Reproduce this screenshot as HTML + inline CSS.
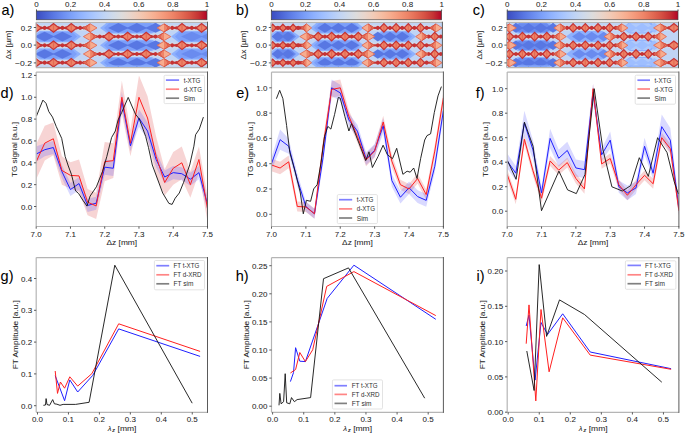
<!DOCTYPE html>
<html><head><meta charset="utf-8"><style>html,body{margin:0;padding:0;background:#fff;width:685px;height:433px;overflow:hidden}svg{display:block}</style></head><body>
<svg width="685" height="433" viewBox="0 0 685 433" style="font-family:'Liberation Sans',sans-serif">
<rect width="685" height="433" fill="#fff"/>
<defs>
<linearGradient id="cwg" x1="0" x2="1" y1="0" y2="0"><stop offset="0" stop-color="#3b4cc0"/><stop offset="0.05" stop-color="#4961d2"/><stop offset="0.1" stop-color="#5977e3"/><stop offset="0.15" stop-color="#6a8bef"/><stop offset="0.2" stop-color="#7b9ff9"/><stop offset="0.25" stop-color="#8db0fe"/><stop offset="0.3" stop-color="#9ebeff"/><stop offset="0.35" stop-color="#afcafc"/><stop offset="0.4" stop-color="#c0d4f5"/><stop offset="0.45" stop-color="#cfdaea"/><stop offset="0.5" stop-color="#dddcdc"/><stop offset="0.55" stop-color="#e9d5cb"/><stop offset="0.6" stop-color="#f2cbb7"/><stop offset="0.65" stop-color="#f6bda2"/><stop offset="0.7" stop-color="#f7ac8e"/><stop offset="0.75" stop-color="#f4987a"/><stop offset="0.8" stop-color="#ee8468"/><stop offset="0.85" stop-color="#e36c55"/><stop offset="0.9" stop-color="#d65244"/><stop offset="0.95" stop-color="#c53334"/><stop offset="1" stop-color="#b40426"/></linearGradient>
<filter id="soft" x="-5%" y="-5%" width="110%" height="110%"><feGaussianBlur stdDeviation="0.45"/></filter>
<clipPath id="hm0"><rect x="36" y="22.3" width="171.5" height="45.3"/></clipPath>
<clipPath id="hm1"><rect x="271" y="22.3" width="171.4" height="45.3"/></clipPath>
<clipPath id="hm2"><rect x="506.6" y="22.3" width="171.9" height="45.3"/></clipPath>
<clipPath id="mc0"><rect x="36.2" y="72.1" width="171.3" height="154.4"/></clipPath><clipPath id="bc0"><rect x="36.2" y="257.6" width="171.3" height="154.7"/></clipPath><clipPath id="mc1"><rect x="271.5" y="72.1" width="171.9" height="154.4"/></clipPath><clipPath id="bc1"><rect x="271.5" y="257.6" width="171.9" height="154.7"/></clipPath><clipPath id="mc2"><rect x="507.2" y="72.1" width="171.7" height="154.4"/></clipPath><clipPath id="bc2"><rect x="507.2" y="257.6" width="171.7" height="154.7"/></clipPath></defs>
<text x="1.4" y="15.3" font-size="14.5" text-anchor="start" fill="#000" stroke="#000" stroke-width="0.05">a)</text>
<text x="236" y="15.3" font-size="14.5" text-anchor="start" fill="#000" stroke="#000" stroke-width="0.05">b)</text>
<text x="472.7" y="15.3" font-size="14.5" text-anchor="start" fill="#000" stroke="#000" stroke-width="0.05">c)</text>
<text x="0.6" y="97.6" font-size="14.5" text-anchor="start" fill="#000" stroke="#000" stroke-width="0.05">d)</text>
<text x="236.2" y="97.8" font-size="14.5" text-anchor="start" fill="#000" stroke="#000" stroke-width="0.05">e)</text>
<text x="475.8" y="97.7" font-size="14.5" text-anchor="start" fill="#000" stroke="#000" stroke-width="0.05">f)</text>
<text x="0.6" y="281.2" font-size="14.5" text-anchor="start" fill="#000" stroke="#000" stroke-width="0.05">g)</text>
<text x="235.8" y="281.2" font-size="14.5" text-anchor="start" fill="#000" stroke="#000" stroke-width="0.05">h)</text>
<text x="476.6" y="281.2" font-size="14.5" text-anchor="start" fill="#000" stroke="#000" stroke-width="0.05">i)</text>
<rect x="36.3" y="11" width="170.7" height="8.8" fill="url(#cwg)" stroke="#444" stroke-width="0.7"/>
<line x1="36.5" y1="11" x2="36.5" y2="9.4" stroke="#333" stroke-width="0.8"/>
<text x="36.5" y="7" font-size="7.9" text-anchor="middle" fill="#262626" stroke="#262626" stroke-width="0.05" textLength="4.45" lengthAdjust="spacingAndGlyphs">0</text>
<line x1="70.6" y1="11" x2="70.6" y2="9.4" stroke="#333" stroke-width="0.8"/>
<text x="70.6" y="7" font-size="7.9" text-anchor="middle" fill="#262626" stroke="#262626" stroke-width="0.05" textLength="11.13" lengthAdjust="spacingAndGlyphs">0.2</text>
<line x1="104.7" y1="11" x2="104.7" y2="9.4" stroke="#333" stroke-width="0.8"/>
<text x="104.7" y="7" font-size="7.9" text-anchor="middle" fill="#262626" stroke="#262626" stroke-width="0.05" textLength="11.13" lengthAdjust="spacingAndGlyphs">0.4</text>
<line x1="138.8" y1="11" x2="138.8" y2="9.4" stroke="#333" stroke-width="0.8"/>
<text x="138.8" y="7" font-size="7.9" text-anchor="middle" fill="#262626" stroke="#262626" stroke-width="0.05" textLength="11.13" lengthAdjust="spacingAndGlyphs">0.6</text>
<line x1="172.9" y1="11" x2="172.9" y2="9.4" stroke="#333" stroke-width="0.8"/>
<text x="172.9" y="7" font-size="7.9" text-anchor="middle" fill="#262626" stroke="#262626" stroke-width="0.05" textLength="11.13" lengthAdjust="spacingAndGlyphs">0.8</text>
<line x1="207" y1="11" x2="207" y2="9.4" stroke="#333" stroke-width="0.8"/>
<text x="207" y="7" font-size="7.9" text-anchor="middle" fill="#262626" stroke="#262626" stroke-width="0.05" textLength="4.45" lengthAdjust="spacingAndGlyphs">1</text>
<rect x="271.3" y="11" width="170.3" height="8.8" fill="url(#cwg)" stroke="#444" stroke-width="0.7"/>
<line x1="271.5" y1="11" x2="271.5" y2="9.4" stroke="#333" stroke-width="0.8"/>
<text x="271.5" y="7" font-size="7.9" text-anchor="middle" fill="#262626" stroke="#262626" stroke-width="0.05" textLength="4.45" lengthAdjust="spacingAndGlyphs">0</text>
<line x1="305.52" y1="11" x2="305.52" y2="9.4" stroke="#333" stroke-width="0.8"/>
<text x="305.52" y="7" font-size="7.9" text-anchor="middle" fill="#262626" stroke="#262626" stroke-width="0.05" textLength="11.13" lengthAdjust="spacingAndGlyphs">0.2</text>
<line x1="339.54" y1="11" x2="339.54" y2="9.4" stroke="#333" stroke-width="0.8"/>
<text x="339.54" y="7" font-size="7.9" text-anchor="middle" fill="#262626" stroke="#262626" stroke-width="0.05" textLength="11.13" lengthAdjust="spacingAndGlyphs">0.4</text>
<line x1="373.56" y1="11" x2="373.56" y2="9.4" stroke="#333" stroke-width="0.8"/>
<text x="373.56" y="7" font-size="7.9" text-anchor="middle" fill="#262626" stroke="#262626" stroke-width="0.05" textLength="11.13" lengthAdjust="spacingAndGlyphs">0.6</text>
<line x1="407.58" y1="11" x2="407.58" y2="9.4" stroke="#333" stroke-width="0.8"/>
<text x="407.58" y="7" font-size="7.9" text-anchor="middle" fill="#262626" stroke="#262626" stroke-width="0.05" textLength="11.13" lengthAdjust="spacingAndGlyphs">0.8</text>
<line x1="441.6" y1="11" x2="441.6" y2="9.4" stroke="#333" stroke-width="0.8"/>
<text x="441.6" y="7" font-size="7.9" text-anchor="middle" fill="#262626" stroke="#262626" stroke-width="0.05" textLength="4.45" lengthAdjust="spacingAndGlyphs">1</text>
<rect x="507.1" y="11" width="170.9" height="8.8" fill="url(#cwg)" stroke="#444" stroke-width="0.7"/>
<line x1="507.3" y1="11" x2="507.3" y2="9.4" stroke="#333" stroke-width="0.8"/>
<text x="507.3" y="7" font-size="7.9" text-anchor="middle" fill="#262626" stroke="#262626" stroke-width="0.05" textLength="4.45" lengthAdjust="spacingAndGlyphs">0</text>
<line x1="541.44" y1="11" x2="541.44" y2="9.4" stroke="#333" stroke-width="0.8"/>
<text x="541.44" y="7" font-size="7.9" text-anchor="middle" fill="#262626" stroke="#262626" stroke-width="0.05" textLength="11.13" lengthAdjust="spacingAndGlyphs">0.2</text>
<line x1="575.58" y1="11" x2="575.58" y2="9.4" stroke="#333" stroke-width="0.8"/>
<text x="575.58" y="7" font-size="7.9" text-anchor="middle" fill="#262626" stroke="#262626" stroke-width="0.05" textLength="11.13" lengthAdjust="spacingAndGlyphs">0.4</text>
<line x1="609.72" y1="11" x2="609.72" y2="9.4" stroke="#333" stroke-width="0.8"/>
<text x="609.72" y="7" font-size="7.9" text-anchor="middle" fill="#262626" stroke="#262626" stroke-width="0.05" textLength="11.13" lengthAdjust="spacingAndGlyphs">0.6</text>
<line x1="643.86" y1="11" x2="643.86" y2="9.4" stroke="#333" stroke-width="0.8"/>
<text x="643.86" y="7" font-size="7.9" text-anchor="middle" fill="#262626" stroke="#262626" stroke-width="0.05" textLength="11.13" lengthAdjust="spacingAndGlyphs">0.8</text>
<line x1="678" y1="11" x2="678" y2="9.4" stroke="#333" stroke-width="0.8"/>
<text x="678" y="7" font-size="7.9" text-anchor="middle" fill="#262626" stroke="#262626" stroke-width="0.05" textLength="4.45" lengthAdjust="spacingAndGlyphs">1</text>
<g clip-path="url(#hm0)"><g filter="url(#soft)">
<rect x="34" y="20.3" width="175.5" height="49.3" fill="#c0d4f5"/>
<polygon points="32,36.6 40,30.8 73,30.8 81,36.6 73,42.4 40,42.4" fill="#8db0fe"/>
<polygon points="36,36.6 41,32 72,32 77,36.6 72,41.2 41,41.2" fill="#7b9ff9"/>
<polygon points="34.7,36.6 44.6,31.8 54.5,36.6 44.6,41.4" fill="#5977e3"/>
<polygon points="52.5,36.6 62.4,31.8 72.3,36.6 62.4,41.4" fill="#5977e3"/>
<polygon points="32,54 40,48.2 73,48.2 81,54 73,59.8 40,59.8" fill="#8db0fe"/>
<polygon points="36,54 41,49.4 72,49.4 77,54 72,58.6 41,58.6" fill="#7b9ff9"/>
<polygon points="34.7,54 44.6,49.2 54.5,54 44.6,58.8" fill="#5977e3"/>
<polygon points="52.5,54 62.4,49.2 72.3,54 62.4,58.8" fill="#5977e3"/>
<polygon points="100,19.2 108,13.4 152,13.4 160,19.2 152,25 108,25" fill="#8db0fe"/>
<polygon points="104,19.2 109,14.6 151,14.6 156,19.2 151,23.8 109,23.8" fill="#7b9ff9"/>
<polygon points="108,19.2 118.3,14.4 128.6,19.2 118.3,24" fill="#5977e3"/>
<polygon points="126.6,19.2 136.9,14.4 147.2,19.2 136.9,24" fill="#5977e3"/>
<polygon points="145.2,19.2 155.5,14.4 165.8,19.2 155.5,24" fill="#5977e3"/>
<polygon points="100,27.9 108,22.1 152,22.1 160,27.9 152,33.7 108,33.7" fill="#8db0fe"/>
<polygon points="104,27.9 109,23.3 151,23.3 156,27.9 151,32.5 109,32.5" fill="#7b9ff9"/>
<polygon points="108,27.9 118.3,23.1 128.6,27.9 118.3,32.7" fill="#5977e3"/>
<polygon points="126.6,27.9 136.9,23.1 147.2,27.9 136.9,32.7" fill="#5977e3"/>
<polygon points="145.2,27.9 155.5,23.1 165.8,27.9 155.5,32.7" fill="#5977e3"/>
<polygon points="100,45.3 108,39.5 152,39.5 160,45.3 152,51.1 108,51.1" fill="#8db0fe"/>
<polygon points="104,45.3 109,40.7 151,40.7 156,45.3 151,49.9 109,49.9" fill="#7b9ff9"/>
<polygon points="108,45.3 118.3,40.5 128.6,45.3 118.3,50.1" fill="#5977e3"/>
<polygon points="126.6,45.3 136.9,40.5 147.2,45.3 136.9,50.1" fill="#5977e3"/>
<polygon points="145.2,45.3 155.5,40.5 165.8,45.3 155.5,50.1" fill="#5977e3"/>
<polygon points="100,62.7 108,56.9 152,56.9 160,62.7 152,68.5 108,68.5" fill="#8db0fe"/>
<polygon points="104,62.7 109,58.1 151,58.1 156,62.7 151,67.3 109,67.3" fill="#7b9ff9"/>
<polygon points="108,62.7 118.3,57.9 128.6,62.7 118.3,67.5" fill="#5977e3"/>
<polygon points="126.6,62.7 136.9,57.9 147.2,62.7 136.9,67.5" fill="#5977e3"/>
<polygon points="145.2,62.7 155.5,57.9 165.8,62.7 155.5,67.5" fill="#5977e3"/>
<polygon points="100,71.4 108,65.6 152,65.6 160,71.4 152,77.2 108,77.2" fill="#8db0fe"/>
<polygon points="104,71.4 109,66.8 151,66.8 156,71.4 151,76 109,76" fill="#7b9ff9"/>
<polygon points="108,71.4 118.3,66.6 128.6,71.4 118.3,76.2" fill="#5977e3"/>
<polygon points="126.6,71.4 136.9,66.6 147.2,71.4 136.9,76.2" fill="#5977e3"/>
<polygon points="145.2,71.4 155.5,66.6 165.8,71.4 155.5,76.2" fill="#5977e3"/>
<polygon points="171,36.6 179,30.8 206,30.8 214,36.6 206,42.4 179,42.4" fill="#8db0fe"/>
<polygon points="175,36.6 180,32 205,32 210,36.6 205,41.2 180,41.2" fill="#7b9ff9"/>
<polygon points="181,36.6 191.8,31.8 202.6,36.6 191.8,41.4" fill="#6a8bef"/>
<polygon points="200.6,36.6 211.4,31.8 222.2,36.6 211.4,41.4" fill="#6a8bef"/>
<polygon points="171,54 179,48.2 206,48.2 214,54 206,59.8 179,59.8" fill="#8db0fe"/>
<polygon points="175,54 180,49.4 205,49.4 210,54 205,58.6 180,58.6" fill="#7b9ff9"/>
<polygon points="181,54 191.8,49.2 202.6,54 191.8,58.8" fill="#6a8bef"/>
<polygon points="200.6,54 211.4,49.2 222.2,54 211.4,58.8" fill="#6a8bef"/>
<rect x="34" y="25" width="56.2" height="5.8" fill="#cfdaea"/>
<rect x="34" y="26.85" width="56.2" height="2.1" fill="#c53334"/>
<ellipse cx="44.6" cy="27.9" rx="1.7" ry="2.1" fill="#c53334"/>
<ellipse cx="40.86" cy="27.9" rx="1.2" ry="1.6" fill="#c53334"/>
<ellipse cx="48.34" cy="27.9" rx="1.2" ry="1.6" fill="#c53334"/>
<ellipse cx="62.4" cy="27.9" rx="1.7" ry="2.1" fill="#c53334"/>
<ellipse cx="58.66" cy="27.9" rx="1.2" ry="1.6" fill="#c53334"/>
<ellipse cx="66.14" cy="27.9" rx="1.2" ry="1.6" fill="#c53334"/>
<ellipse cx="80.2" cy="27.9" rx="1.7" ry="2.1" fill="#c53334"/>
<ellipse cx="76.46" cy="27.9" rx="1.2" ry="1.6" fill="#c53334"/>
<ellipse cx="83.94" cy="27.9" rx="1.2" ry="1.6" fill="#c53334"/>
<polygon points="30.2,27.9 35.7,23.6 41.2,27.9 35.7,32.2" fill="#e36c55" stroke="#c53334" stroke-width="1.2"/>
<polygon points="31.6,27.9 35.1,25.2 35.1,30.6" fill="#ee8468"/>
<polygon points="39.8,27.9 36.3,25.2 36.3,30.6" fill="#ee8468"/>
<polygon points="48,27.9 53.5,23.6 59,27.9 53.5,32.2" fill="#e36c55" stroke="#c53334" stroke-width="1.2"/>
<polygon points="49.4,27.9 52.9,25.2 52.9,30.6" fill="#ee8468"/>
<polygon points="57.6,27.9 54.1,25.2 54.1,30.6" fill="#ee8468"/>
<polygon points="65.8,27.9 71.3,23.6 76.8,27.9 71.3,32.2" fill="#e36c55" stroke="#c53334" stroke-width="1.2"/>
<polygon points="67.2,27.9 70.7,25.2 70.7,30.6" fill="#ee8468"/>
<polygon points="75.4,27.9 71.9,25.2 71.9,30.6" fill="#ee8468"/>
<polygon points="83.4,27.9 90.2,23.9 97,27.9 90.2,31.9" fill="#f7ac8e" stroke="#e36c55" stroke-width="0.9"/>
<polygon points="83.4,27.9 90.2,23.9 90.2,31.9" fill="#ee8468"/>
<polyline points="90.2,23.9 83.4,27.9 90.2,31.9" fill="none" stroke="#d65244" stroke-width="1" stroke-linejoin="round"/>
<polyline points="85.44,26.9 87.82,30.1" fill="none" stroke="#d65244" stroke-width="0.75" stroke-linejoin="round"/>
<polyline points="85.44,28.9 87.82,25.7" fill="none" stroke="#d65244" stroke-width="0.75" stroke-linejoin="round"/>
<rect x="34" y="42.4" width="56.2" height="5.8" fill="#cfdaea"/>
<rect x="34" y="44.25" width="56.2" height="2.1" fill="#c53334"/>
<ellipse cx="44.6" cy="45.3" rx="1.7" ry="2.1" fill="#c53334"/>
<ellipse cx="40.86" cy="45.3" rx="1.2" ry="1.6" fill="#c53334"/>
<ellipse cx="48.34" cy="45.3" rx="1.2" ry="1.6" fill="#c53334"/>
<ellipse cx="62.4" cy="45.3" rx="1.7" ry="2.1" fill="#c53334"/>
<ellipse cx="58.66" cy="45.3" rx="1.2" ry="1.6" fill="#c53334"/>
<ellipse cx="66.14" cy="45.3" rx="1.2" ry="1.6" fill="#c53334"/>
<ellipse cx="80.2" cy="45.3" rx="1.7" ry="2.1" fill="#c53334"/>
<ellipse cx="76.46" cy="45.3" rx="1.2" ry="1.6" fill="#c53334"/>
<ellipse cx="83.94" cy="45.3" rx="1.2" ry="1.6" fill="#c53334"/>
<polygon points="30.2,45.3 35.7,41 41.2,45.3 35.7,49.6" fill="#e36c55" stroke="#c53334" stroke-width="1.2"/>
<polygon points="31.6,45.3 35.1,42.6 35.1,48" fill="#ee8468"/>
<polygon points="39.8,45.3 36.3,42.6 36.3,48" fill="#ee8468"/>
<polygon points="48,45.3 53.5,41 59,45.3 53.5,49.6" fill="#e36c55" stroke="#c53334" stroke-width="1.2"/>
<polygon points="49.4,45.3 52.9,42.6 52.9,48" fill="#ee8468"/>
<polygon points="57.6,45.3 54.1,42.6 54.1,48" fill="#ee8468"/>
<polygon points="65.8,45.3 71.3,41 76.8,45.3 71.3,49.6" fill="#e36c55" stroke="#c53334" stroke-width="1.2"/>
<polygon points="67.2,45.3 70.7,42.6 70.7,48" fill="#ee8468"/>
<polygon points="75.4,45.3 71.9,42.6 71.9,48" fill="#ee8468"/>
<polygon points="83.4,45.3 90.2,41.3 97,45.3 90.2,49.3" fill="#f7ac8e" stroke="#e36c55" stroke-width="0.9"/>
<polygon points="83.4,45.3 90.2,41.3 90.2,49.3" fill="#ee8468"/>
<polyline points="90.2,41.3 83.4,45.3 90.2,49.3" fill="none" stroke="#d65244" stroke-width="1" stroke-linejoin="round"/>
<polyline points="85.44,44.3 87.82,47.5" fill="none" stroke="#d65244" stroke-width="0.75" stroke-linejoin="round"/>
<polyline points="85.44,46.3 87.82,43.1" fill="none" stroke="#d65244" stroke-width="0.75" stroke-linejoin="round"/>
<rect x="34" y="59.8" width="56.2" height="5.8" fill="#cfdaea"/>
<rect x="34" y="61.65" width="56.2" height="2.1" fill="#c53334"/>
<ellipse cx="44.6" cy="62.7" rx="1.7" ry="2.1" fill="#c53334"/>
<ellipse cx="40.86" cy="62.7" rx="1.2" ry="1.6" fill="#c53334"/>
<ellipse cx="48.34" cy="62.7" rx="1.2" ry="1.6" fill="#c53334"/>
<ellipse cx="62.4" cy="62.7" rx="1.7" ry="2.1" fill="#c53334"/>
<ellipse cx="58.66" cy="62.7" rx="1.2" ry="1.6" fill="#c53334"/>
<ellipse cx="66.14" cy="62.7" rx="1.2" ry="1.6" fill="#c53334"/>
<ellipse cx="80.2" cy="62.7" rx="1.7" ry="2.1" fill="#c53334"/>
<ellipse cx="76.46" cy="62.7" rx="1.2" ry="1.6" fill="#c53334"/>
<ellipse cx="83.94" cy="62.7" rx="1.2" ry="1.6" fill="#c53334"/>
<polygon points="30.2,62.7 35.7,58.4 41.2,62.7 35.7,67" fill="#e36c55" stroke="#c53334" stroke-width="1.2"/>
<polygon points="31.6,62.7 35.1,60 35.1,65.4" fill="#ee8468"/>
<polygon points="39.8,62.7 36.3,60 36.3,65.4" fill="#ee8468"/>
<polygon points="48,62.7 53.5,58.4 59,62.7 53.5,67" fill="#e36c55" stroke="#c53334" stroke-width="1.2"/>
<polygon points="49.4,62.7 52.9,60 52.9,65.4" fill="#ee8468"/>
<polygon points="57.6,62.7 54.1,60 54.1,65.4" fill="#ee8468"/>
<polygon points="65.8,62.7 71.3,58.4 76.8,62.7 71.3,67" fill="#e36c55" stroke="#c53334" stroke-width="1.2"/>
<polygon points="67.2,62.7 70.7,60 70.7,65.4" fill="#ee8468"/>
<polygon points="75.4,62.7 71.9,60 71.9,65.4" fill="#ee8468"/>
<polygon points="83.4,62.7 90.2,58.7 97,62.7 90.2,66.7" fill="#f7ac8e" stroke="#e36c55" stroke-width="0.9"/>
<polygon points="83.4,62.7 90.2,58.7 90.2,66.7" fill="#ee8468"/>
<polyline points="90.2,58.7 83.4,62.7 90.2,66.7" fill="none" stroke="#d65244" stroke-width="1" stroke-linejoin="round"/>
<polyline points="85.44,61.7 87.82,64.9" fill="none" stroke="#d65244" stroke-width="0.75" stroke-linejoin="round"/>
<polyline points="85.44,63.7 87.82,60.5" fill="none" stroke="#d65244" stroke-width="0.75" stroke-linejoin="round"/>
<rect x="90.2" y="33.7" width="73.8" height="5.8" fill="#cfdaea"/>
<rect x="90.2" y="35.55" width="73.8" height="2.1" fill="#c53334"/>
<ellipse cx="99.7" cy="36.6" rx="1.7" ry="2.1" fill="#c53334"/>
<ellipse cx="95.79" cy="36.6" rx="1.2" ry="1.6" fill="#c53334"/>
<ellipse cx="103.61" cy="36.6" rx="1.2" ry="1.6" fill="#c53334"/>
<ellipse cx="118.3" cy="36.6" rx="1.7" ry="2.1" fill="#c53334"/>
<ellipse cx="114.39" cy="36.6" rx="1.2" ry="1.6" fill="#c53334"/>
<ellipse cx="122.21" cy="36.6" rx="1.2" ry="1.6" fill="#c53334"/>
<ellipse cx="136.9" cy="36.6" rx="1.7" ry="2.1" fill="#c53334"/>
<ellipse cx="132.99" cy="36.6" rx="1.2" ry="1.6" fill="#c53334"/>
<ellipse cx="140.81" cy="36.6" rx="1.2" ry="1.6" fill="#c53334"/>
<ellipse cx="155.5" cy="36.6" rx="1.7" ry="2.1" fill="#c53334"/>
<ellipse cx="151.59" cy="36.6" rx="1.2" ry="1.6" fill="#c53334"/>
<ellipse cx="159.41" cy="36.6" rx="1.2" ry="1.6" fill="#c53334"/>
<polygon points="103.5,36.6 109,32.3 114.5,36.6 109,40.9" fill="#e36c55" stroke="#c53334" stroke-width="1.2"/>
<polygon points="104.9,36.6 108.4,33.9 108.4,39.3" fill="#ee8468"/>
<polygon points="113.1,36.6 109.6,33.9 109.6,39.3" fill="#ee8468"/>
<polygon points="122.1,36.6 127.6,32.3 133.1,36.6 127.6,40.9" fill="#e36c55" stroke="#c53334" stroke-width="1.2"/>
<polygon points="123.5,36.6 127,33.9 127,39.3" fill="#ee8468"/>
<polygon points="131.7,36.6 128.2,33.9 128.2,39.3" fill="#ee8468"/>
<polygon points="140.7,36.6 146.2,32.3 151.7,36.6 146.2,40.9" fill="#e36c55" stroke="#c53334" stroke-width="1.2"/>
<polygon points="142.1,36.6 145.6,33.9 145.6,39.3" fill="#ee8468"/>
<polygon points="150.3,36.6 146.8,33.9 146.8,39.3" fill="#ee8468"/>
<polygon points="83.4,36.6 90.2,32.6 97,36.6 90.2,40.6" fill="#f7ac8e" stroke="#e36c55" stroke-width="0.9"/>
<polygon points="97,36.6 90.2,32.6 90.2,40.6" fill="#ee8468"/>
<polyline points="90.2,32.6 97,36.6 90.2,40.6" fill="none" stroke="#d65244" stroke-width="1" stroke-linejoin="round"/>
<polyline points="94.96,35.6 92.58,38.8" fill="none" stroke="#d65244" stroke-width="0.75" stroke-linejoin="round"/>
<polyline points="94.96,37.6 92.58,34.4" fill="none" stroke="#d65244" stroke-width="0.75" stroke-linejoin="round"/>
<polygon points="157.2,36.6 164,32.6 170.8,36.6 164,40.6" fill="#f7ac8e" stroke="#e36c55" stroke-width="0.9"/>
<polygon points="157.2,36.6 164,32.6 164,40.6" fill="#ee8468"/>
<polyline points="164,32.6 157.2,36.6 164,40.6" fill="none" stroke="#d65244" stroke-width="1" stroke-linejoin="round"/>
<polyline points="159.24,35.6 161.62,38.8" fill="none" stroke="#d65244" stroke-width="0.75" stroke-linejoin="round"/>
<polyline points="159.24,37.6 161.62,34.4" fill="none" stroke="#d65244" stroke-width="0.75" stroke-linejoin="round"/>
<rect x="90.2" y="51.1" width="73.8" height="5.8" fill="#cfdaea"/>
<rect x="90.2" y="52.95" width="73.8" height="2.1" fill="#c53334"/>
<ellipse cx="99.7" cy="54" rx="1.7" ry="2.1" fill="#c53334"/>
<ellipse cx="95.79" cy="54" rx="1.2" ry="1.6" fill="#c53334"/>
<ellipse cx="103.61" cy="54" rx="1.2" ry="1.6" fill="#c53334"/>
<ellipse cx="118.3" cy="54" rx="1.7" ry="2.1" fill="#c53334"/>
<ellipse cx="114.39" cy="54" rx="1.2" ry="1.6" fill="#c53334"/>
<ellipse cx="122.21" cy="54" rx="1.2" ry="1.6" fill="#c53334"/>
<ellipse cx="136.9" cy="54" rx="1.7" ry="2.1" fill="#c53334"/>
<ellipse cx="132.99" cy="54" rx="1.2" ry="1.6" fill="#c53334"/>
<ellipse cx="140.81" cy="54" rx="1.2" ry="1.6" fill="#c53334"/>
<ellipse cx="155.5" cy="54" rx="1.7" ry="2.1" fill="#c53334"/>
<ellipse cx="151.59" cy="54" rx="1.2" ry="1.6" fill="#c53334"/>
<ellipse cx="159.41" cy="54" rx="1.2" ry="1.6" fill="#c53334"/>
<polygon points="103.5,54 109,49.7 114.5,54 109,58.3" fill="#e36c55" stroke="#c53334" stroke-width="1.2"/>
<polygon points="104.9,54 108.4,51.3 108.4,56.7" fill="#ee8468"/>
<polygon points="113.1,54 109.6,51.3 109.6,56.7" fill="#ee8468"/>
<polygon points="122.1,54 127.6,49.7 133.1,54 127.6,58.3" fill="#e36c55" stroke="#c53334" stroke-width="1.2"/>
<polygon points="123.5,54 127,51.3 127,56.7" fill="#ee8468"/>
<polygon points="131.7,54 128.2,51.3 128.2,56.7" fill="#ee8468"/>
<polygon points="140.7,54 146.2,49.7 151.7,54 146.2,58.3" fill="#e36c55" stroke="#c53334" stroke-width="1.2"/>
<polygon points="142.1,54 145.6,51.3 145.6,56.7" fill="#ee8468"/>
<polygon points="150.3,54 146.8,51.3 146.8,56.7" fill="#ee8468"/>
<polygon points="83.4,54 90.2,50 97,54 90.2,58" fill="#f7ac8e" stroke="#e36c55" stroke-width="0.9"/>
<polygon points="97,54 90.2,50 90.2,58" fill="#ee8468"/>
<polyline points="90.2,50 97,54 90.2,58" fill="none" stroke="#d65244" stroke-width="1" stroke-linejoin="round"/>
<polyline points="94.96,53 92.58,56.2" fill="none" stroke="#d65244" stroke-width="0.75" stroke-linejoin="round"/>
<polyline points="94.96,55 92.58,51.8" fill="none" stroke="#d65244" stroke-width="0.75" stroke-linejoin="round"/>
<polygon points="157.2,54 164,50 170.8,54 164,58" fill="#f7ac8e" stroke="#e36c55" stroke-width="0.9"/>
<polygon points="157.2,54 164,50 164,58" fill="#ee8468"/>
<polyline points="164,50 157.2,54 164,58" fill="none" stroke="#d65244" stroke-width="1" stroke-linejoin="round"/>
<polyline points="159.24,53 161.62,56.2" fill="none" stroke="#d65244" stroke-width="0.75" stroke-linejoin="round"/>
<polyline points="159.24,55 161.62,51.8" fill="none" stroke="#d65244" stroke-width="0.75" stroke-linejoin="round"/>
<rect x="164" y="25" width="46" height="5.8" fill="#cfdaea"/>
<rect x="164" y="26.85" width="46" height="2.1" fill="#c53334"/>
<ellipse cx="172.2" cy="27.9" rx="1.7" ry="2.1" fill="#c53334"/>
<ellipse cx="168.08" cy="27.9" rx="1.2" ry="1.6" fill="#c53334"/>
<ellipse cx="176.32" cy="27.9" rx="1.2" ry="1.6" fill="#c53334"/>
<ellipse cx="191.8" cy="27.9" rx="1.7" ry="2.1" fill="#c53334"/>
<ellipse cx="187.68" cy="27.9" rx="1.2" ry="1.6" fill="#c53334"/>
<ellipse cx="195.92" cy="27.9" rx="1.2" ry="1.6" fill="#c53334"/>
<ellipse cx="211.4" cy="27.9" rx="1.7" ry="2.1" fill="#c53334"/>
<ellipse cx="207.28" cy="27.9" rx="1.2" ry="1.6" fill="#c53334"/>
<polygon points="176.5,27.9 182,23.6 187.5,27.9 182,32.2" fill="#e36c55" stroke="#c53334" stroke-width="1.2"/>
<polygon points="177.9,27.9 181.4,25.2 181.4,30.6" fill="#ee8468"/>
<polygon points="186.1,27.9 182.6,25.2 182.6,30.6" fill="#ee8468"/>
<polygon points="196.1,27.9 201.6,23.6 207.1,27.9 201.6,32.2" fill="#e36c55" stroke="#c53334" stroke-width="1.2"/>
<polygon points="197.5,27.9 201,25.2 201,30.6" fill="#ee8468"/>
<polygon points="205.7,27.9 202.2,25.2 202.2,30.6" fill="#ee8468"/>
<polygon points="157.2,27.9 164,23.9 170.8,27.9 164,31.9" fill="#f7ac8e" stroke="#e36c55" stroke-width="0.9"/>
<polygon points="170.8,27.9 164,23.9 164,31.9" fill="#ee8468"/>
<polyline points="164,23.9 170.8,27.9 164,31.9" fill="none" stroke="#d65244" stroke-width="1" stroke-linejoin="round"/>
<polyline points="168.76,26.9 166.38,30.1" fill="none" stroke="#d65244" stroke-width="0.75" stroke-linejoin="round"/>
<polyline points="168.76,28.9 166.38,25.7" fill="none" stroke="#d65244" stroke-width="0.75" stroke-linejoin="round"/>
<rect x="164" y="42.4" width="46" height="5.8" fill="#cfdaea"/>
<rect x="164" y="44.25" width="46" height="2.1" fill="#c53334"/>
<ellipse cx="172.2" cy="45.3" rx="1.7" ry="2.1" fill="#c53334"/>
<ellipse cx="168.08" cy="45.3" rx="1.2" ry="1.6" fill="#c53334"/>
<ellipse cx="176.32" cy="45.3" rx="1.2" ry="1.6" fill="#c53334"/>
<ellipse cx="191.8" cy="45.3" rx="1.7" ry="2.1" fill="#c53334"/>
<ellipse cx="187.68" cy="45.3" rx="1.2" ry="1.6" fill="#c53334"/>
<ellipse cx="195.92" cy="45.3" rx="1.2" ry="1.6" fill="#c53334"/>
<ellipse cx="211.4" cy="45.3" rx="1.7" ry="2.1" fill="#c53334"/>
<ellipse cx="207.28" cy="45.3" rx="1.2" ry="1.6" fill="#c53334"/>
<polygon points="176.5,45.3 182,41 187.5,45.3 182,49.6" fill="#e36c55" stroke="#c53334" stroke-width="1.2"/>
<polygon points="177.9,45.3 181.4,42.6 181.4,48" fill="#ee8468"/>
<polygon points="186.1,45.3 182.6,42.6 182.6,48" fill="#ee8468"/>
<polygon points="196.1,45.3 201.6,41 207.1,45.3 201.6,49.6" fill="#e36c55" stroke="#c53334" stroke-width="1.2"/>
<polygon points="197.5,45.3 201,42.6 201,48" fill="#ee8468"/>
<polygon points="205.7,45.3 202.2,42.6 202.2,48" fill="#ee8468"/>
<polygon points="157.2,45.3 164,41.3 170.8,45.3 164,49.3" fill="#f7ac8e" stroke="#e36c55" stroke-width="0.9"/>
<polygon points="170.8,45.3 164,41.3 164,49.3" fill="#ee8468"/>
<polyline points="164,41.3 170.8,45.3 164,49.3" fill="none" stroke="#d65244" stroke-width="1" stroke-linejoin="round"/>
<polyline points="168.76,44.3 166.38,47.5" fill="none" stroke="#d65244" stroke-width="0.75" stroke-linejoin="round"/>
<polyline points="168.76,46.3 166.38,43.1" fill="none" stroke="#d65244" stroke-width="0.75" stroke-linejoin="round"/>
<rect x="164" y="59.8" width="46" height="5.8" fill="#cfdaea"/>
<rect x="164" y="61.65" width="46" height="2.1" fill="#c53334"/>
<ellipse cx="172.2" cy="62.7" rx="1.7" ry="2.1" fill="#c53334"/>
<ellipse cx="168.08" cy="62.7" rx="1.2" ry="1.6" fill="#c53334"/>
<ellipse cx="176.32" cy="62.7" rx="1.2" ry="1.6" fill="#c53334"/>
<ellipse cx="191.8" cy="62.7" rx="1.7" ry="2.1" fill="#c53334"/>
<ellipse cx="187.68" cy="62.7" rx="1.2" ry="1.6" fill="#c53334"/>
<ellipse cx="195.92" cy="62.7" rx="1.2" ry="1.6" fill="#c53334"/>
<ellipse cx="211.4" cy="62.7" rx="1.7" ry="2.1" fill="#c53334"/>
<ellipse cx="207.28" cy="62.7" rx="1.2" ry="1.6" fill="#c53334"/>
<polygon points="176.5,62.7 182,58.4 187.5,62.7 182,67" fill="#e36c55" stroke="#c53334" stroke-width="1.2"/>
<polygon points="177.9,62.7 181.4,60 181.4,65.4" fill="#ee8468"/>
<polygon points="186.1,62.7 182.6,60 182.6,65.4" fill="#ee8468"/>
<polygon points="196.1,62.7 201.6,58.4 207.1,62.7 201.6,67" fill="#e36c55" stroke="#c53334" stroke-width="1.2"/>
<polygon points="197.5,62.7 201,60 201,65.4" fill="#ee8468"/>
<polygon points="205.7,62.7 202.2,60 202.2,65.4" fill="#ee8468"/>
<polygon points="157.2,62.7 164,58.7 170.8,62.7 164,66.7" fill="#f7ac8e" stroke="#e36c55" stroke-width="0.9"/>
<polygon points="170.8,62.7 164,58.7 164,66.7" fill="#ee8468"/>
<polyline points="164,58.7 170.8,62.7 164,66.7" fill="none" stroke="#d65244" stroke-width="1" stroke-linejoin="round"/>
<polyline points="168.76,61.7 166.38,64.9" fill="none" stroke="#d65244" stroke-width="0.75" stroke-linejoin="round"/>
<polyline points="168.76,63.7 166.38,60.5" fill="none" stroke="#d65244" stroke-width="0.75" stroke-linejoin="round"/>
</g></g>
<g clip-path="url(#hm1)"><g filter="url(#soft)">
<rect x="269" y="20.3" width="175.4" height="49.3" fill="#c0d4f5"/>
<polygon points="268,36.6 276,30.8 292,30.8 300,36.6 292,42.4 276,42.4" fill="#8db0fe"/>
<polygon points="272,36.6 277,32 291,32 296,36.6 291,41.2 277,41.2" fill="#6a8bef"/>
<polygon points="271.7,36.6 277.8,31.8 283.9,36.6 277.8,41.4" fill="#5977e3"/>
<polygon points="281.9,36.6 288,31.8 294.1,36.6 288,41.4" fill="#5977e3"/>
<polygon points="268,54 276,48.2 292,48.2 300,54 292,59.8 276,59.8" fill="#8db0fe"/>
<polygon points="272,54 277,49.4 291,49.4 296,54 291,58.6 277,58.6" fill="#6a8bef"/>
<polygon points="271.7,54 277.8,49.2 283.9,54 277.8,58.8" fill="#5977e3"/>
<polygon points="281.9,54 288,49.2 294.1,54 288,58.8" fill="#5977e3"/>
<polygon points="310,19.2 318,13.4 356,13.4 364,19.2 356,25 318,25" fill="#8db0fe"/>
<polygon points="314,19.2 319,14.6 355,14.6 360,19.2 355,23.8 319,23.8" fill="#7b9ff9"/>
<polygon points="317.2,19.2 324.9,14.4 332.6,19.2 324.9,24" fill="#5977e3"/>
<polygon points="330.6,19.2 338.3,14.4 346,19.2 338.3,24" fill="#5977e3"/>
<polygon points="344,19.2 351.65,14.4 359.3,19.2 351.65,24" fill="#5977e3"/>
<polygon points="310,27.9 318,22.1 356,22.1 364,27.9 356,33.7 318,33.7" fill="#8db0fe"/>
<polygon points="314,27.9 319,23.3 355,23.3 360,27.9 355,32.5 319,32.5" fill="#7b9ff9"/>
<polygon points="317.2,27.9 324.9,23.1 332.6,27.9 324.9,32.7" fill="#5977e3"/>
<polygon points="330.6,27.9 338.3,23.1 346,27.9 338.3,32.7" fill="#5977e3"/>
<polygon points="344,27.9 351.65,23.1 359.3,27.9 351.65,32.7" fill="#5977e3"/>
<polygon points="310,45.3 318,39.5 356,39.5 364,45.3 356,51.1 318,51.1" fill="#8db0fe"/>
<polygon points="314,45.3 319,40.7 355,40.7 360,45.3 355,49.9 319,49.9" fill="#7b9ff9"/>
<polygon points="317.2,45.3 324.9,40.5 332.6,45.3 324.9,50.1" fill="#5977e3"/>
<polygon points="330.6,45.3 338.3,40.5 346,45.3 338.3,50.1" fill="#5977e3"/>
<polygon points="344,45.3 351.65,40.5 359.3,45.3 351.65,50.1" fill="#5977e3"/>
<polygon points="310,62.7 318,56.9 356,56.9 364,62.7 356,68.5 318,68.5" fill="#8db0fe"/>
<polygon points="314,62.7 319,58.1 355,58.1 360,62.7 355,67.3 319,67.3" fill="#7b9ff9"/>
<polygon points="317.2,62.7 324.9,57.9 332.6,62.7 324.9,67.5" fill="#5977e3"/>
<polygon points="330.6,62.7 338.3,57.9 346,62.7 338.3,67.5" fill="#5977e3"/>
<polygon points="344,62.7 351.65,57.9 359.3,62.7 351.65,67.5" fill="#5977e3"/>
<polygon points="310,71.4 318,65.6 356,65.6 364,71.4 356,77.2 318,77.2" fill="#8db0fe"/>
<polygon points="314,71.4 319,66.8 355,66.8 360,71.4 355,76 319,76" fill="#7b9ff9"/>
<polygon points="317.2,71.4 324.9,66.6 332.6,71.4 324.9,76.2" fill="#5977e3"/>
<polygon points="330.6,71.4 338.3,66.6 346,71.4 338.3,76.2" fill="#5977e3"/>
<polygon points="344,71.4 351.65,66.6 359.3,71.4 351.65,76.2" fill="#5977e3"/>
<polygon points="374,36.6 382,30.8 408,30.8 416,36.6 408,42.4 382,42.4" fill="#8db0fe"/>
<polygon points="378,36.6 383,32 407,32 412,36.6 407,41.2 383,41.2" fill="#7b9ff9"/>
<polygon points="370.7,36.6 377.8,31.8 384.9,36.6 377.8,41.4" fill="#5977e3"/>
<polygon points="382.9,36.6 390,31.8 397.1,36.6 390,41.4" fill="#5977e3"/>
<polygon points="395.1,36.6 402.2,31.8 409.3,36.6 402.2,41.4" fill="#5977e3"/>
<polygon points="374,54 382,48.2 408,48.2 416,54 408,59.8 382,59.8" fill="#8db0fe"/>
<polygon points="378,54 383,49.4 407,49.4 412,54 407,58.6 383,58.6" fill="#7b9ff9"/>
<polygon points="370.7,54 377.8,49.2 384.9,54 377.8,58.8" fill="#5977e3"/>
<polygon points="382.9,54 390,49.2 397.1,54 390,58.8" fill="#5977e3"/>
<polygon points="395.1,54 402.2,49.2 409.3,54 402.2,58.8" fill="#5977e3"/>
<rect x="270" y="25" width="36.5" height="5.8" fill="#cfdaea"/>
<rect x="270" y="26.3" width="36.5" height="3.2" fill="#c53334"/>
<ellipse cx="277.8" cy="27.9" rx="1.7" ry="2.1" fill="#c53334"/>
<ellipse cx="288" cy="27.9" rx="1.7" ry="2.1" fill="#c53334"/>
<ellipse cx="298.2" cy="27.9" rx="1.7" ry="2.1" fill="#c53334"/>
<ellipse cx="308.4" cy="27.9" rx="1.7" ry="2.1" fill="#c53334"/>
<polygon points="269.23,27.9 272.7,24.23 276.17,27.9 272.7,31.57" fill="#e36c55" stroke="#c53334" stroke-width="1.2"/>
<polygon points="270.63,27.9 272.1,25.83 272.1,29.97" fill="#ee8468"/>
<polygon points="274.77,27.9 273.3,25.83 273.3,29.97" fill="#ee8468"/>
<polygon points="279.43,27.9 282.9,24.23 286.37,27.9 282.9,31.57" fill="#e36c55" stroke="#c53334" stroke-width="1.2"/>
<polygon points="280.83,27.9 282.3,25.83 282.3,29.97" fill="#ee8468"/>
<polygon points="284.97,27.9 283.5,25.83 283.5,29.97" fill="#ee8468"/>
<polygon points="289.63,27.9 293.1,24.23 296.57,27.9 293.1,31.57" fill="#e36c55" stroke="#c53334" stroke-width="1.2"/>
<polygon points="291.03,27.9 292.5,25.83 292.5,29.97" fill="#ee8468"/>
<polygon points="295.17,27.9 293.7,25.83 293.7,29.97" fill="#ee8468"/>
<polygon points="301.4,27.9 306.5,23.9 311.6,27.9 306.5,31.9" fill="#f7ac8e" stroke="#e36c55" stroke-width="0.9"/>
<polygon points="301.4,27.9 306.5,23.9 306.5,31.9" fill="#ee8468"/>
<polyline points="306.5,23.9 301.4,27.9 306.5,31.9" fill="none" stroke="#d65244" stroke-width="1" stroke-linejoin="round"/>
<polyline points="302.93,26.9 304.71,30.1" fill="none" stroke="#d65244" stroke-width="0.75" stroke-linejoin="round"/>
<polyline points="302.93,28.9 304.71,25.7" fill="none" stroke="#d65244" stroke-width="0.75" stroke-linejoin="round"/>
<rect x="270" y="42.4" width="36.5" height="5.8" fill="#cfdaea"/>
<rect x="270" y="43.7" width="36.5" height="3.2" fill="#c53334"/>
<ellipse cx="277.8" cy="45.3" rx="1.7" ry="2.1" fill="#c53334"/>
<ellipse cx="288" cy="45.3" rx="1.7" ry="2.1" fill="#c53334"/>
<ellipse cx="298.2" cy="45.3" rx="1.7" ry="2.1" fill="#c53334"/>
<ellipse cx="308.4" cy="45.3" rx="1.7" ry="2.1" fill="#c53334"/>
<polygon points="269.23,45.3 272.7,41.63 276.17,45.3 272.7,48.97" fill="#e36c55" stroke="#c53334" stroke-width="1.2"/>
<polygon points="270.63,45.3 272.1,43.23 272.1,47.37" fill="#ee8468"/>
<polygon points="274.77,45.3 273.3,43.23 273.3,47.37" fill="#ee8468"/>
<polygon points="279.43,45.3 282.9,41.63 286.37,45.3 282.9,48.97" fill="#e36c55" stroke="#c53334" stroke-width="1.2"/>
<polygon points="280.83,45.3 282.3,43.23 282.3,47.37" fill="#ee8468"/>
<polygon points="284.97,45.3 283.5,43.23 283.5,47.37" fill="#ee8468"/>
<polygon points="289.63,45.3 293.1,41.63 296.57,45.3 293.1,48.97" fill="#e36c55" stroke="#c53334" stroke-width="1.2"/>
<polygon points="291.03,45.3 292.5,43.23 292.5,47.37" fill="#ee8468"/>
<polygon points="295.17,45.3 293.7,43.23 293.7,47.37" fill="#ee8468"/>
<polygon points="301.4,45.3 306.5,41.3 311.6,45.3 306.5,49.3" fill="#f7ac8e" stroke="#e36c55" stroke-width="0.9"/>
<polygon points="301.4,45.3 306.5,41.3 306.5,49.3" fill="#ee8468"/>
<polyline points="306.5,41.3 301.4,45.3 306.5,49.3" fill="none" stroke="#d65244" stroke-width="1" stroke-linejoin="round"/>
<polyline points="302.93,44.3 304.71,47.5" fill="none" stroke="#d65244" stroke-width="0.75" stroke-linejoin="round"/>
<polyline points="302.93,46.3 304.71,43.1" fill="none" stroke="#d65244" stroke-width="0.75" stroke-linejoin="round"/>
<rect x="270" y="59.8" width="36.5" height="5.8" fill="#cfdaea"/>
<rect x="270" y="61.1" width="36.5" height="3.2" fill="#c53334"/>
<ellipse cx="277.8" cy="62.7" rx="1.7" ry="2.1" fill="#c53334"/>
<ellipse cx="288" cy="62.7" rx="1.7" ry="2.1" fill="#c53334"/>
<ellipse cx="298.2" cy="62.7" rx="1.7" ry="2.1" fill="#c53334"/>
<ellipse cx="308.4" cy="62.7" rx="1.7" ry="2.1" fill="#c53334"/>
<polygon points="269.23,62.7 272.7,59.03 276.17,62.7 272.7,66.37" fill="#e36c55" stroke="#c53334" stroke-width="1.2"/>
<polygon points="270.63,62.7 272.1,60.63 272.1,64.77" fill="#ee8468"/>
<polygon points="274.77,62.7 273.3,60.63 273.3,64.77" fill="#ee8468"/>
<polygon points="279.43,62.7 282.9,59.03 286.37,62.7 282.9,66.37" fill="#e36c55" stroke="#c53334" stroke-width="1.2"/>
<polygon points="280.83,62.7 282.3,60.63 282.3,64.77" fill="#ee8468"/>
<polygon points="284.97,62.7 283.5,60.63 283.5,64.77" fill="#ee8468"/>
<polygon points="289.63,62.7 293.1,59.03 296.57,62.7 293.1,66.37" fill="#e36c55" stroke="#c53334" stroke-width="1.2"/>
<polygon points="291.03,62.7 292.5,60.63 292.5,64.77" fill="#ee8468"/>
<polygon points="295.17,62.7 293.7,60.63 293.7,64.77" fill="#ee8468"/>
<polygon points="301.4,62.7 306.5,58.7 311.6,62.7 306.5,66.7" fill="#f7ac8e" stroke="#e36c55" stroke-width="0.9"/>
<polygon points="301.4,62.7 306.5,58.7 306.5,66.7" fill="#ee8468"/>
<polyline points="306.5,58.7 301.4,62.7 306.5,66.7" fill="none" stroke="#d65244" stroke-width="1" stroke-linejoin="round"/>
<polyline points="302.93,61.7 304.71,64.9" fill="none" stroke="#d65244" stroke-width="0.75" stroke-linejoin="round"/>
<polyline points="302.93,63.7 304.71,60.5" fill="none" stroke="#d65244" stroke-width="0.75" stroke-linejoin="round"/>
<rect x="306.5" y="33.7" width="61.5" height="5.8" fill="#cfdaea"/>
<rect x="306.5" y="35.55" width="61.5" height="2.1" fill="#c53334"/>
<ellipse cx="311.52" cy="36.6" rx="1.7" ry="2.1" fill="#c53334"/>
<ellipse cx="308.71" cy="36.6" rx="1.2" ry="1.6" fill="#c53334"/>
<ellipse cx="314.32" cy="36.6" rx="1.2" ry="1.6" fill="#c53334"/>
<ellipse cx="324.9" cy="36.6" rx="1.7" ry="2.1" fill="#c53334"/>
<ellipse cx="322.09" cy="36.6" rx="1.2" ry="1.6" fill="#c53334"/>
<ellipse cx="327.71" cy="36.6" rx="1.2" ry="1.6" fill="#c53334"/>
<ellipse cx="338.3" cy="36.6" rx="1.7" ry="2.1" fill="#c53334"/>
<ellipse cx="335.49" cy="36.6" rx="1.2" ry="1.6" fill="#c53334"/>
<ellipse cx="341.11" cy="36.6" rx="1.2" ry="1.6" fill="#c53334"/>
<ellipse cx="351.65" cy="36.6" rx="1.7" ry="2.1" fill="#c53334"/>
<ellipse cx="348.86" cy="36.6" rx="1.2" ry="1.6" fill="#c53334"/>
<ellipse cx="354.44" cy="36.6" rx="1.2" ry="1.6" fill="#c53334"/>
<ellipse cx="364.98" cy="36.6" rx="1.7" ry="2.1" fill="#c53334"/>
<ellipse cx="362.18" cy="36.6" rx="1.2" ry="1.6" fill="#c53334"/>
<ellipse cx="367.79" cy="36.6" rx="1.2" ry="1.6" fill="#c53334"/>
<polygon points="313.66,36.6 318.2,32.3 322.74,36.6 318.2,40.9" fill="#e36c55" stroke="#c53334" stroke-width="1.2"/>
<polygon points="315.06,36.6 317.6,33.9 317.6,39.3" fill="#ee8468"/>
<polygon points="321.34,36.6 318.8,33.9 318.8,39.3" fill="#ee8468"/>
<polygon points="327.06,36.6 331.6,32.3 336.14,36.6 331.6,40.9" fill="#e36c55" stroke="#c53334" stroke-width="1.2"/>
<polygon points="328.46,36.6 331,33.9 331,39.3" fill="#ee8468"/>
<polygon points="334.74,36.6 332.2,33.9 332.2,39.3" fill="#ee8468"/>
<polygon points="340.46,36.6 345,32.3 349.54,36.6 345,40.9" fill="#e36c55" stroke="#c53334" stroke-width="1.2"/>
<polygon points="341.86,36.6 344.4,33.9 344.4,39.3" fill="#ee8468"/>
<polygon points="348.14,36.6 345.6,33.9 345.6,39.3" fill="#ee8468"/>
<polygon points="353.76,36.6 358.3,32.3 362.84,36.6 358.3,40.9" fill="#e36c55" stroke="#c53334" stroke-width="1.2"/>
<polygon points="355.16,36.6 357.7,33.9 357.7,39.3" fill="#ee8468"/>
<polygon points="361.44,36.6 358.9,33.9 358.9,39.3" fill="#ee8468"/>
<polygon points="299.82,36.6 306.5,32.6 313.18,36.6 306.5,40.6" fill="#f7ac8e" stroke="#e36c55" stroke-width="0.9"/>
<polygon points="313.18,36.6 306.5,32.6 306.5,40.6" fill="#ee8468"/>
<polyline points="306.5,32.6 313.18,36.6 306.5,40.6" fill="none" stroke="#d65244" stroke-width="1" stroke-linejoin="round"/>
<polyline points="311.18,35.6 308.84,38.8" fill="none" stroke="#d65244" stroke-width="0.75" stroke-linejoin="round"/>
<polyline points="311.18,37.6 308.84,34.4" fill="none" stroke="#d65244" stroke-width="0.75" stroke-linejoin="round"/>
<polygon points="361.32,36.6 368,32.6 374.68,36.6 368,40.6" fill="#f7ac8e" stroke="#e36c55" stroke-width="0.9"/>
<polygon points="361.32,36.6 368,32.6 368,40.6" fill="#ee8468"/>
<polyline points="368,32.6 361.32,36.6 368,40.6" fill="none" stroke="#d65244" stroke-width="1" stroke-linejoin="round"/>
<polyline points="363.32,35.6 365.66,38.8" fill="none" stroke="#d65244" stroke-width="0.75" stroke-linejoin="round"/>
<polyline points="363.32,37.6 365.66,34.4" fill="none" stroke="#d65244" stroke-width="0.75" stroke-linejoin="round"/>
<rect x="306.5" y="51.1" width="61.5" height="5.8" fill="#cfdaea"/>
<rect x="306.5" y="52.95" width="61.5" height="2.1" fill="#c53334"/>
<ellipse cx="311.52" cy="54" rx="1.7" ry="2.1" fill="#c53334"/>
<ellipse cx="308.71" cy="54" rx="1.2" ry="1.6" fill="#c53334"/>
<ellipse cx="314.32" cy="54" rx="1.2" ry="1.6" fill="#c53334"/>
<ellipse cx="324.9" cy="54" rx="1.7" ry="2.1" fill="#c53334"/>
<ellipse cx="322.09" cy="54" rx="1.2" ry="1.6" fill="#c53334"/>
<ellipse cx="327.71" cy="54" rx="1.2" ry="1.6" fill="#c53334"/>
<ellipse cx="338.3" cy="54" rx="1.7" ry="2.1" fill="#c53334"/>
<ellipse cx="335.49" cy="54" rx="1.2" ry="1.6" fill="#c53334"/>
<ellipse cx="341.11" cy="54" rx="1.2" ry="1.6" fill="#c53334"/>
<ellipse cx="351.65" cy="54" rx="1.7" ry="2.1" fill="#c53334"/>
<ellipse cx="348.86" cy="54" rx="1.2" ry="1.6" fill="#c53334"/>
<ellipse cx="354.44" cy="54" rx="1.2" ry="1.6" fill="#c53334"/>
<ellipse cx="364.98" cy="54" rx="1.7" ry="2.1" fill="#c53334"/>
<ellipse cx="362.18" cy="54" rx="1.2" ry="1.6" fill="#c53334"/>
<ellipse cx="367.79" cy="54" rx="1.2" ry="1.6" fill="#c53334"/>
<polygon points="313.66,54 318.2,49.7 322.74,54 318.2,58.3" fill="#e36c55" stroke="#c53334" stroke-width="1.2"/>
<polygon points="315.06,54 317.6,51.3 317.6,56.7" fill="#ee8468"/>
<polygon points="321.34,54 318.8,51.3 318.8,56.7" fill="#ee8468"/>
<polygon points="327.06,54 331.6,49.7 336.14,54 331.6,58.3" fill="#e36c55" stroke="#c53334" stroke-width="1.2"/>
<polygon points="328.46,54 331,51.3 331,56.7" fill="#ee8468"/>
<polygon points="334.74,54 332.2,51.3 332.2,56.7" fill="#ee8468"/>
<polygon points="340.46,54 345,49.7 349.54,54 345,58.3" fill="#e36c55" stroke="#c53334" stroke-width="1.2"/>
<polygon points="341.86,54 344.4,51.3 344.4,56.7" fill="#ee8468"/>
<polygon points="348.14,54 345.6,51.3 345.6,56.7" fill="#ee8468"/>
<polygon points="353.76,54 358.3,49.7 362.84,54 358.3,58.3" fill="#e36c55" stroke="#c53334" stroke-width="1.2"/>
<polygon points="355.16,54 357.7,51.3 357.7,56.7" fill="#ee8468"/>
<polygon points="361.44,54 358.9,51.3 358.9,56.7" fill="#ee8468"/>
<polygon points="299.82,54 306.5,50 313.18,54 306.5,58" fill="#f7ac8e" stroke="#e36c55" stroke-width="0.9"/>
<polygon points="313.18,54 306.5,50 306.5,58" fill="#ee8468"/>
<polyline points="306.5,50 313.18,54 306.5,58" fill="none" stroke="#d65244" stroke-width="1" stroke-linejoin="round"/>
<polyline points="311.18,53 308.84,56.2" fill="none" stroke="#d65244" stroke-width="0.75" stroke-linejoin="round"/>
<polyline points="311.18,55 308.84,51.8" fill="none" stroke="#d65244" stroke-width="0.75" stroke-linejoin="round"/>
<polygon points="361.32,54 368,50 374.68,54 368,58" fill="#f7ac8e" stroke="#e36c55" stroke-width="0.9"/>
<polygon points="361.32,54 368,50 368,58" fill="#ee8468"/>
<polyline points="368,50 361.32,54 368,58" fill="none" stroke="#d65244" stroke-width="1" stroke-linejoin="round"/>
<polyline points="363.32,53 365.66,56.2" fill="none" stroke="#d65244" stroke-width="0.75" stroke-linejoin="round"/>
<polyline points="363.32,55 365.66,51.8" fill="none" stroke="#d65244" stroke-width="0.75" stroke-linejoin="round"/>
<rect x="368" y="25" width="68" height="5.8" fill="#cfdaea"/>
<rect x="368" y="26.85" width="68" height="2.1" fill="#c53334"/>
<ellipse cx="377.8" cy="27.9" rx="1.7" ry="2.1" fill="#c53334"/>
<ellipse cx="390" cy="27.9" rx="1.7" ry="2.1" fill="#c53334"/>
<ellipse cx="402.2" cy="27.9" rx="1.7" ry="2.1" fill="#c53334"/>
<ellipse cx="414.4" cy="27.9" rx="1.7" ry="2.1" fill="#c53334"/>
<ellipse cx="426.6" cy="27.9" rx="1.7" ry="2.1" fill="#c53334"/>
<polygon points="379.75,27.9 383.9,23.6 388.05,27.9 383.9,32.2" fill="#e36c55" stroke="#c53334" stroke-width="1.2"/>
<polygon points="381.15,27.9 383.3,25.2 383.3,30.6" fill="#ee8468"/>
<polygon points="386.65,27.9 384.5,25.2 384.5,30.6" fill="#ee8468"/>
<polygon points="391.95,27.9 396.1,23.6 400.25,27.9 396.1,32.2" fill="#e36c55" stroke="#c53334" stroke-width="1.2"/>
<polygon points="393.35,27.9 395.5,25.2 395.5,30.6" fill="#ee8468"/>
<polygon points="398.85,27.9 396.7,25.2 396.7,30.6" fill="#ee8468"/>
<polygon points="404.15,27.9 408.3,23.6 412.45,27.9 408.3,32.2" fill="#e36c55" stroke="#c53334" stroke-width="1.2"/>
<polygon points="405.55,27.9 407.7,25.2 407.7,30.6" fill="#ee8468"/>
<polygon points="411.05,27.9 408.9,25.2 408.9,30.6" fill="#ee8468"/>
<polygon points="416.35,27.9 420.5,23.6 424.65,27.9 420.5,32.2" fill="#e36c55" stroke="#c53334" stroke-width="1.2"/>
<polygon points="417.75,27.9 419.9,25.2 419.9,30.6" fill="#ee8468"/>
<polygon points="423.25,27.9 421.1,25.2 421.1,30.6" fill="#ee8468"/>
<polygon points="361.9,27.9 368,23.9 374.1,27.9 368,31.9" fill="#f7ac8e" stroke="#e36c55" stroke-width="0.9"/>
<polygon points="374.1,27.9 368,23.9 368,31.9" fill="#ee8468"/>
<polyline points="368,23.9 374.1,27.9 368,31.9" fill="none" stroke="#d65244" stroke-width="1" stroke-linejoin="round"/>
<polyline points="372.27,26.9 370.13,30.1" fill="none" stroke="#d65244" stroke-width="0.75" stroke-linejoin="round"/>
<polyline points="372.27,28.9 370.13,25.7" fill="none" stroke="#d65244" stroke-width="0.75" stroke-linejoin="round"/>
<polygon points="429.9,27.9 436,23.9 442.1,27.9 436,31.9" fill="#f7ac8e" stroke="#e36c55" stroke-width="0.9"/>
<polygon points="429.9,27.9 436,23.9 436,31.9" fill="#ee8468"/>
<polyline points="436,23.9 429.9,27.9 436,31.9" fill="none" stroke="#d65244" stroke-width="1" stroke-linejoin="round"/>
<polyline points="431.73,26.9 433.87,30.1" fill="none" stroke="#d65244" stroke-width="0.75" stroke-linejoin="round"/>
<polyline points="431.73,28.9 433.87,25.7" fill="none" stroke="#d65244" stroke-width="0.75" stroke-linejoin="round"/>
<rect x="368" y="42.4" width="68" height="5.8" fill="#cfdaea"/>
<rect x="368" y="44.25" width="68" height="2.1" fill="#c53334"/>
<ellipse cx="377.8" cy="45.3" rx="1.7" ry="2.1" fill="#c53334"/>
<ellipse cx="390" cy="45.3" rx="1.7" ry="2.1" fill="#c53334"/>
<ellipse cx="402.2" cy="45.3" rx="1.7" ry="2.1" fill="#c53334"/>
<ellipse cx="414.4" cy="45.3" rx="1.7" ry="2.1" fill="#c53334"/>
<ellipse cx="426.6" cy="45.3" rx="1.7" ry="2.1" fill="#c53334"/>
<polygon points="379.75,45.3 383.9,41 388.05,45.3 383.9,49.6" fill="#e36c55" stroke="#c53334" stroke-width="1.2"/>
<polygon points="381.15,45.3 383.3,42.6 383.3,48" fill="#ee8468"/>
<polygon points="386.65,45.3 384.5,42.6 384.5,48" fill="#ee8468"/>
<polygon points="391.95,45.3 396.1,41 400.25,45.3 396.1,49.6" fill="#e36c55" stroke="#c53334" stroke-width="1.2"/>
<polygon points="393.35,45.3 395.5,42.6 395.5,48" fill="#ee8468"/>
<polygon points="398.85,45.3 396.7,42.6 396.7,48" fill="#ee8468"/>
<polygon points="404.15,45.3 408.3,41 412.45,45.3 408.3,49.6" fill="#e36c55" stroke="#c53334" stroke-width="1.2"/>
<polygon points="405.55,45.3 407.7,42.6 407.7,48" fill="#ee8468"/>
<polygon points="411.05,45.3 408.9,42.6 408.9,48" fill="#ee8468"/>
<polygon points="416.35,45.3 420.5,41 424.65,45.3 420.5,49.6" fill="#e36c55" stroke="#c53334" stroke-width="1.2"/>
<polygon points="417.75,45.3 419.9,42.6 419.9,48" fill="#ee8468"/>
<polygon points="423.25,45.3 421.1,42.6 421.1,48" fill="#ee8468"/>
<polygon points="361.9,45.3 368,41.3 374.1,45.3 368,49.3" fill="#f7ac8e" stroke="#e36c55" stroke-width="0.9"/>
<polygon points="374.1,45.3 368,41.3 368,49.3" fill="#ee8468"/>
<polyline points="368,41.3 374.1,45.3 368,49.3" fill="none" stroke="#d65244" stroke-width="1" stroke-linejoin="round"/>
<polyline points="372.27,44.3 370.13,47.5" fill="none" stroke="#d65244" stroke-width="0.75" stroke-linejoin="round"/>
<polyline points="372.27,46.3 370.13,43.1" fill="none" stroke="#d65244" stroke-width="0.75" stroke-linejoin="round"/>
<polygon points="429.9,45.3 436,41.3 442.1,45.3 436,49.3" fill="#f7ac8e" stroke="#e36c55" stroke-width="0.9"/>
<polygon points="429.9,45.3 436,41.3 436,49.3" fill="#ee8468"/>
<polyline points="436,41.3 429.9,45.3 436,49.3" fill="none" stroke="#d65244" stroke-width="1" stroke-linejoin="round"/>
<polyline points="431.73,44.3 433.87,47.5" fill="none" stroke="#d65244" stroke-width="0.75" stroke-linejoin="round"/>
<polyline points="431.73,46.3 433.87,43.1" fill="none" stroke="#d65244" stroke-width="0.75" stroke-linejoin="round"/>
<rect x="368" y="59.8" width="68" height="5.8" fill="#cfdaea"/>
<rect x="368" y="61.65" width="68" height="2.1" fill="#c53334"/>
<ellipse cx="377.8" cy="62.7" rx="1.7" ry="2.1" fill="#c53334"/>
<ellipse cx="390" cy="62.7" rx="1.7" ry="2.1" fill="#c53334"/>
<ellipse cx="402.2" cy="62.7" rx="1.7" ry="2.1" fill="#c53334"/>
<ellipse cx="414.4" cy="62.7" rx="1.7" ry="2.1" fill="#c53334"/>
<ellipse cx="426.6" cy="62.7" rx="1.7" ry="2.1" fill="#c53334"/>
<polygon points="379.75,62.7 383.9,58.4 388.05,62.7 383.9,67" fill="#e36c55" stroke="#c53334" stroke-width="1.2"/>
<polygon points="381.15,62.7 383.3,60 383.3,65.4" fill="#ee8468"/>
<polygon points="386.65,62.7 384.5,60 384.5,65.4" fill="#ee8468"/>
<polygon points="391.95,62.7 396.1,58.4 400.25,62.7 396.1,67" fill="#e36c55" stroke="#c53334" stroke-width="1.2"/>
<polygon points="393.35,62.7 395.5,60 395.5,65.4" fill="#ee8468"/>
<polygon points="398.85,62.7 396.7,60 396.7,65.4" fill="#ee8468"/>
<polygon points="404.15,62.7 408.3,58.4 412.45,62.7 408.3,67" fill="#e36c55" stroke="#c53334" stroke-width="1.2"/>
<polygon points="405.55,62.7 407.7,60 407.7,65.4" fill="#ee8468"/>
<polygon points="411.05,62.7 408.9,60 408.9,65.4" fill="#ee8468"/>
<polygon points="416.35,62.7 420.5,58.4 424.65,62.7 420.5,67" fill="#e36c55" stroke="#c53334" stroke-width="1.2"/>
<polygon points="417.75,62.7 419.9,60 419.9,65.4" fill="#ee8468"/>
<polygon points="423.25,62.7 421.1,60 421.1,65.4" fill="#ee8468"/>
<polygon points="361.9,62.7 368,58.7 374.1,62.7 368,66.7" fill="#f7ac8e" stroke="#e36c55" stroke-width="0.9"/>
<polygon points="374.1,62.7 368,58.7 368,66.7" fill="#ee8468"/>
<polyline points="368,58.7 374.1,62.7 368,66.7" fill="none" stroke="#d65244" stroke-width="1" stroke-linejoin="round"/>
<polyline points="372.27,61.7 370.13,64.9" fill="none" stroke="#d65244" stroke-width="0.75" stroke-linejoin="round"/>
<polyline points="372.27,63.7 370.13,60.5" fill="none" stroke="#d65244" stroke-width="0.75" stroke-linejoin="round"/>
<polygon points="429.9,62.7 436,58.7 442.1,62.7 436,66.7" fill="#f7ac8e" stroke="#e36c55" stroke-width="0.9"/>
<polygon points="429.9,62.7 436,58.7 436,66.7" fill="#ee8468"/>
<polyline points="436,58.7 429.9,62.7 436,66.7" fill="none" stroke="#d65244" stroke-width="1" stroke-linejoin="round"/>
<polyline points="431.73,61.7 433.87,64.9" fill="none" stroke="#d65244" stroke-width="0.75" stroke-linejoin="round"/>
<polyline points="431.73,63.7 433.87,60.5" fill="none" stroke="#d65244" stroke-width="0.75" stroke-linejoin="round"/>
<rect x="421.8" y="33.7" width="22.2" height="5.8" fill="#cfdaea"/>
<rect x="421.8" y="35.55" width="22.2" height="2.1" fill="#c53334"/>
<ellipse cx="428.6" cy="36.6" rx="1.7" ry="2.1" fill="#c53334"/>
<ellipse cx="440.8" cy="36.6" rx="1.7" ry="2.1" fill="#c53334"/>
<polygon points="430.55,36.6 434.7,32.3 438.85,36.6 434.7,40.9" fill="#e36c55" stroke="#c53334" stroke-width="1.2"/>
<polygon points="431.95,36.6 434.1,33.9 434.1,39.3" fill="#ee8468"/>
<polygon points="437.45,36.6 435.3,33.9 435.3,39.3" fill="#ee8468"/>
<polygon points="442.75,36.6 446.9,32.3 451.05,36.6 446.9,40.9" fill="#e36c55" stroke="#c53334" stroke-width="1.2"/>
<polygon points="444.15,36.6 446.3,33.9 446.3,39.3" fill="#ee8468"/>
<polygon points="449.65,36.6 447.5,33.9 447.5,39.3" fill="#ee8468"/>
<polygon points="415.7,36.6 421.8,32.6 427.9,36.6 421.8,40.6" fill="#f7ac8e" stroke="#e36c55" stroke-width="0.9"/>
<polygon points="427.9,36.6 421.8,32.6 421.8,40.6" fill="#ee8468"/>
<polyline points="421.8,32.6 427.9,36.6 421.8,40.6" fill="none" stroke="#d65244" stroke-width="1" stroke-linejoin="round"/>
<polyline points="426.07,35.6 423.94,38.8" fill="none" stroke="#d65244" stroke-width="0.75" stroke-linejoin="round"/>
<polyline points="426.07,37.6 423.94,34.4" fill="none" stroke="#d65244" stroke-width="0.75" stroke-linejoin="round"/>
<rect x="421.8" y="51.1" width="22.2" height="5.8" fill="#cfdaea"/>
<rect x="421.8" y="52.95" width="22.2" height="2.1" fill="#c53334"/>
<ellipse cx="428.6" cy="54" rx="1.7" ry="2.1" fill="#c53334"/>
<ellipse cx="440.8" cy="54" rx="1.7" ry="2.1" fill="#c53334"/>
<polygon points="430.55,54 434.7,49.7 438.85,54 434.7,58.3" fill="#e36c55" stroke="#c53334" stroke-width="1.2"/>
<polygon points="431.95,54 434.1,51.3 434.1,56.7" fill="#ee8468"/>
<polygon points="437.45,54 435.3,51.3 435.3,56.7" fill="#ee8468"/>
<polygon points="442.75,54 446.9,49.7 451.05,54 446.9,58.3" fill="#e36c55" stroke="#c53334" stroke-width="1.2"/>
<polygon points="444.15,54 446.3,51.3 446.3,56.7" fill="#ee8468"/>
<polygon points="449.65,54 447.5,51.3 447.5,56.7" fill="#ee8468"/>
<polygon points="415.7,54 421.8,50 427.9,54 421.8,58" fill="#f7ac8e" stroke="#e36c55" stroke-width="0.9"/>
<polygon points="427.9,54 421.8,50 421.8,58" fill="#ee8468"/>
<polyline points="421.8,50 427.9,54 421.8,58" fill="none" stroke="#d65244" stroke-width="1" stroke-linejoin="round"/>
<polyline points="426.07,53 423.94,56.2" fill="none" stroke="#d65244" stroke-width="0.75" stroke-linejoin="round"/>
<polyline points="426.07,55 423.94,51.8" fill="none" stroke="#d65244" stroke-width="0.75" stroke-linejoin="round"/>
</g></g>
<g clip-path="url(#hm2)"><g filter="url(#soft)">
<rect x="504.6" y="20.3" width="175.9" height="49.3" fill="#c0d4f5"/>
<polygon points="510,19.2 518,13.4 548,13.4 556,19.2 548,25 518,25" fill="#8db0fe"/>
<polygon points="514,19.2 519,14.6 547,14.6 552,19.2 547,23.8 519,23.8" fill="#6a8bef"/>
<polygon points="508.5,19.2 515.95,14.4 523.4,19.2 515.95,24" fill="#5977e3"/>
<polygon points="521.4,19.2 528.5,14.4 535.6,19.2 528.5,24" fill="#5977e3"/>
<polygon points="533.6,19.2 540.7,14.4 547.8,19.2 540.7,24" fill="#5977e3"/>
<polygon points="545.8,19.2 553.02,14.4 560.23,19.2 553.02,24" fill="#5977e3"/>
<polygon points="510,27.9 518,22.1 548,22.1 556,27.9 548,33.7 518,33.7" fill="#8db0fe"/>
<polygon points="514,27.9 519,23.3 547,23.3 552,27.9 547,32.5 519,32.5" fill="#6a8bef"/>
<polygon points="508.5,27.9 515.95,23.1 523.4,27.9 515.95,32.7" fill="#5977e3"/>
<polygon points="521.4,27.9 528.5,23.1 535.6,27.9 528.5,32.7" fill="#5977e3"/>
<polygon points="533.6,27.9 540.7,23.1 547.8,27.9 540.7,32.7" fill="#5977e3"/>
<polygon points="545.8,27.9 553.02,23.1 560.23,27.9 553.02,32.7" fill="#5977e3"/>
<polygon points="510,45.3 518,39.5 548,39.5 556,45.3 548,51.1 518,51.1" fill="#8db0fe"/>
<polygon points="514,45.3 519,40.7 547,40.7 552,45.3 547,49.9 519,49.9" fill="#6a8bef"/>
<polygon points="508.5,45.3 515.95,40.5 523.4,45.3 515.95,50.1" fill="#5977e3"/>
<polygon points="521.4,45.3 528.5,40.5 535.6,45.3 528.5,50.1" fill="#5977e3"/>
<polygon points="533.6,45.3 540.7,40.5 547.8,45.3 540.7,50.1" fill="#5977e3"/>
<polygon points="545.8,45.3 553.02,40.5 560.23,45.3 553.02,50.1" fill="#5977e3"/>
<polygon points="510,62.7 518,56.9 548,56.9 556,62.7 548,68.5 518,68.5" fill="#8db0fe"/>
<polygon points="514,62.7 519,58.1 547,58.1 552,62.7 547,67.3 519,67.3" fill="#6a8bef"/>
<polygon points="508.5,62.7 515.95,57.9 523.4,62.7 515.95,67.5" fill="#5977e3"/>
<polygon points="521.4,62.7 528.5,57.9 535.6,62.7 528.5,67.5" fill="#5977e3"/>
<polygon points="533.6,62.7 540.7,57.9 547.8,62.7 540.7,67.5" fill="#5977e3"/>
<polygon points="545.8,62.7 553.02,57.9 560.23,62.7 553.02,67.5" fill="#5977e3"/>
<polygon points="510,71.4 518,65.6 548,65.6 556,71.4 548,77.2 518,77.2" fill="#8db0fe"/>
<polygon points="514,71.4 519,66.8 547,66.8 552,71.4 547,76 519,76" fill="#6a8bef"/>
<polygon points="508.5,71.4 515.95,66.6 523.4,71.4 515.95,76.2" fill="#5977e3"/>
<polygon points="521.4,71.4 528.5,66.6 535.6,71.4 528.5,76.2" fill="#5977e3"/>
<polygon points="533.6,71.4 540.7,66.6 547.8,71.4 540.7,76.2" fill="#5977e3"/>
<polygon points="545.8,71.4 553.02,66.6 560.23,71.4 553.02,76.2" fill="#5977e3"/>
<polygon points="566,36.6 574,30.8 602,30.8 610,36.6 602,42.4 574,42.4" fill="#8db0fe"/>
<polygon points="570,36.6 575,32 601,32 606,36.6 601,41.2 575,41.2" fill="#8db0fe"/>
<polygon points="572.1,36.6 579.2,31.8 586.3,36.6 579.2,41.4" fill="#6a8bef"/>
<polygon points="584.3,36.6 591.65,31.8 599,36.6 591.65,41.4" fill="#6a8bef"/>
<polygon points="597,36.6 603.8,31.8 610.6,36.6 603.8,41.4" fill="#6a8bef"/>
<polygon points="566,54 574,48.2 602,48.2 610,54 602,59.8 574,59.8" fill="#8db0fe"/>
<polygon points="570,54 575,49.4 601,49.4 606,54 601,58.6 575,58.6" fill="#8db0fe"/>
<polygon points="572.1,54 579.2,49.2 586.3,54 579.2,58.8" fill="#6a8bef"/>
<polygon points="584.3,54 591.65,49.2 599,54 591.65,58.8" fill="#6a8bef"/>
<polygon points="597,54 603.8,49.2 610.6,54 603.8,58.8" fill="#6a8bef"/>
<polygon points="622,19.2 630,13.4 650,13.4 658,19.2 650,25 630,25" fill="#8db0fe"/>
<polygon points="626,19.2 631,14.6 649,14.6 654,19.2 649,23.8 631,23.8" fill="#afcafc"/>
<polygon points="622.8,19.2 629.9,14.4 637,19.2 629.9,24" fill="#9ebeff"/>
<polygon points="635,19.2 642.1,14.4 649.2,19.2 642.1,24" fill="#9ebeff"/>
<polygon points="647.2,19.2 654.3,14.4 661.4,19.2 654.3,24" fill="#9ebeff"/>
<polygon points="622,27.9 630,22.1 650,22.1 658,27.9 650,33.7 630,33.7" fill="#8db0fe"/>
<polygon points="626,27.9 631,23.3 649,23.3 654,27.9 649,32.5 631,32.5" fill="#afcafc"/>
<polygon points="622.8,27.9 629.9,23.1 637,27.9 629.9,32.7" fill="#9ebeff"/>
<polygon points="635,27.9 642.1,23.1 649.2,27.9 642.1,32.7" fill="#9ebeff"/>
<polygon points="647.2,27.9 654.3,23.1 661.4,27.9 654.3,32.7" fill="#9ebeff"/>
<polygon points="622,45.3 630,39.5 650,39.5 658,45.3 650,51.1 630,51.1" fill="#8db0fe"/>
<polygon points="626,45.3 631,40.7 649,40.7 654,45.3 649,49.9 631,49.9" fill="#afcafc"/>
<polygon points="622.8,45.3 629.9,40.5 637,45.3 629.9,50.1" fill="#9ebeff"/>
<polygon points="635,45.3 642.1,40.5 649.2,45.3 642.1,50.1" fill="#9ebeff"/>
<polygon points="647.2,45.3 654.3,40.5 661.4,45.3 654.3,50.1" fill="#9ebeff"/>
<polygon points="622,62.7 630,56.9 650,56.9 658,62.7 650,68.5 630,68.5" fill="#8db0fe"/>
<polygon points="626,62.7 631,58.1 649,58.1 654,62.7 649,67.3 631,67.3" fill="#afcafc"/>
<polygon points="622.8,62.7 629.9,57.9 637,62.7 629.9,67.5" fill="#9ebeff"/>
<polygon points="635,62.7 642.1,57.9 649.2,62.7 642.1,67.5" fill="#9ebeff"/>
<polygon points="647.2,62.7 654.3,57.9 661.4,62.7 654.3,67.5" fill="#9ebeff"/>
<polygon points="622,71.4 630,65.6 650,65.6 658,71.4 650,77.2 630,77.2" fill="#8db0fe"/>
<polygon points="626,71.4 631,66.8 649,66.8 654,71.4 649,76 631,76" fill="#afcafc"/>
<polygon points="622.8,71.4 629.9,66.6 637,71.4 629.9,76.2" fill="#9ebeff"/>
<polygon points="635,71.4 642.1,66.6 649.2,71.4 642.1,76.2" fill="#9ebeff"/>
<polygon points="647.2,71.4 654.3,66.6 661.4,71.4 654.3,76.2" fill="#9ebeff"/>
<rect x="505" y="25" width="4.5" height="5.8" fill="#cfdaea"/>
<rect x="505" y="26.85" width="4.5" height="2.1" fill="#c53334"/>
<polygon points="502.7,27.9 509.5,23.9 516.3,27.9 509.5,31.9" fill="#f7ac8e" stroke="#e36c55" stroke-width="0.9"/>
<polygon points="502.7,27.9 509.5,23.9 509.5,31.9" fill="#ee8468"/>
<polyline points="509.5,23.9 502.7,27.9 509.5,31.9" fill="none" stroke="#d65244" stroke-width="1" stroke-linejoin="round"/>
<polyline points="504.74,26.9 507.12,30.1" fill="none" stroke="#d65244" stroke-width="0.75" stroke-linejoin="round"/>
<polyline points="504.74,28.9 507.12,25.7" fill="none" stroke="#d65244" stroke-width="0.75" stroke-linejoin="round"/>
<rect x="505" y="42.4" width="4.5" height="5.8" fill="#cfdaea"/>
<rect x="505" y="44.25" width="4.5" height="2.1" fill="#c53334"/>
<polygon points="502.7,45.3 509.5,41.3 516.3,45.3 509.5,49.3" fill="#f7ac8e" stroke="#e36c55" stroke-width="0.9"/>
<polygon points="502.7,45.3 509.5,41.3 509.5,49.3" fill="#ee8468"/>
<polyline points="509.5,41.3 502.7,45.3 509.5,49.3" fill="none" stroke="#d65244" stroke-width="1" stroke-linejoin="round"/>
<polyline points="504.74,44.3 507.12,47.5" fill="none" stroke="#d65244" stroke-width="0.75" stroke-linejoin="round"/>
<polyline points="504.74,46.3 507.12,43.1" fill="none" stroke="#d65244" stroke-width="0.75" stroke-linejoin="round"/>
<rect x="505" y="59.8" width="4.5" height="5.8" fill="#cfdaea"/>
<rect x="505" y="61.65" width="4.5" height="2.1" fill="#c53334"/>
<polygon points="502.7,62.7 509.5,58.7 516.3,62.7 509.5,66.7" fill="#f7ac8e" stroke="#e36c55" stroke-width="0.9"/>
<polygon points="502.7,62.7 509.5,58.7 509.5,66.7" fill="#ee8468"/>
<polyline points="509.5,58.7 502.7,62.7 509.5,66.7" fill="none" stroke="#d65244" stroke-width="1" stroke-linejoin="round"/>
<polyline points="504.74,61.7 507.12,64.9" fill="none" stroke="#d65244" stroke-width="0.75" stroke-linejoin="round"/>
<polyline points="504.74,63.7 507.12,60.5" fill="none" stroke="#d65244" stroke-width="0.75" stroke-linejoin="round"/>
<rect x="505" y="33.7" width="55" height="5.8" fill="#cfdaea"/>
<rect x="505" y="35.55" width="55" height="2.1" fill="#c53334"/>
<ellipse cx="503.28" cy="36.6" rx="1.7" ry="2.1" fill="#c53334"/>
<ellipse cx="515.95" cy="36.6" rx="1.7" ry="2.1" fill="#c53334"/>
<ellipse cx="528.5" cy="36.6" rx="1.7" ry="2.1" fill="#c53334"/>
<ellipse cx="540.7" cy="36.6" rx="1.7" ry="2.1" fill="#c53334"/>
<ellipse cx="553.02" cy="36.6" rx="1.7" ry="2.1" fill="#c53334"/>
<polygon points="505.27,36.6 509.5,32.3 513.73,36.6 509.5,40.9" fill="#e36c55" stroke="#c53334" stroke-width="1.2"/>
<polygon points="506.67,36.6 508.9,33.9 508.9,39.3" fill="#ee8468"/>
<polygon points="512.33,36.6 510.1,33.9 510.1,39.3" fill="#ee8468"/>
<polygon points="518.17,36.6 522.4,32.3 526.63,36.6 522.4,40.9" fill="#e36c55" stroke="#c53334" stroke-width="1.2"/>
<polygon points="519.57,36.6 521.8,33.9 521.8,39.3" fill="#ee8468"/>
<polygon points="525.23,36.6 523,33.9 523,39.3" fill="#ee8468"/>
<polygon points="530.37,36.6 534.6,32.3 538.83,36.6 534.6,40.9" fill="#e36c55" stroke="#c53334" stroke-width="1.2"/>
<polygon points="531.77,36.6 534,33.9 534,39.3" fill="#ee8468"/>
<polygon points="537.43,36.6 535.2,33.9 535.2,39.3" fill="#ee8468"/>
<polygon points="542.57,36.6 546.8,32.3 551.03,36.6 546.8,40.9" fill="#e36c55" stroke="#c53334" stroke-width="1.2"/>
<polygon points="543.97,36.6 546.2,33.9 546.2,39.3" fill="#ee8468"/>
<polygon points="549.63,36.6 547.4,33.9 547.4,39.3" fill="#ee8468"/>
<polygon points="553.78,36.6 560,32.6 566.22,36.6 560,40.6" fill="#f7ac8e" stroke="#e36c55" stroke-width="0.9"/>
<polygon points="553.78,36.6 560,32.6 560,40.6" fill="#ee8468"/>
<polyline points="560,32.6 553.78,36.6 560,40.6" fill="none" stroke="#d65244" stroke-width="1" stroke-linejoin="round"/>
<polyline points="555.65,35.6 557.82,38.8" fill="none" stroke="#d65244" stroke-width="0.75" stroke-linejoin="round"/>
<polyline points="555.65,37.6 557.82,34.4" fill="none" stroke="#d65244" stroke-width="0.75" stroke-linejoin="round"/>
<rect x="505" y="51.1" width="55" height="5.8" fill="#cfdaea"/>
<rect x="505" y="52.95" width="55" height="2.1" fill="#c53334"/>
<ellipse cx="503.28" cy="54" rx="1.7" ry="2.1" fill="#c53334"/>
<ellipse cx="515.95" cy="54" rx="1.7" ry="2.1" fill="#c53334"/>
<ellipse cx="528.5" cy="54" rx="1.7" ry="2.1" fill="#c53334"/>
<ellipse cx="540.7" cy="54" rx="1.7" ry="2.1" fill="#c53334"/>
<ellipse cx="553.02" cy="54" rx="1.7" ry="2.1" fill="#c53334"/>
<polygon points="505.27,54 509.5,49.7 513.73,54 509.5,58.3" fill="#e36c55" stroke="#c53334" stroke-width="1.2"/>
<polygon points="506.67,54 508.9,51.3 508.9,56.7" fill="#ee8468"/>
<polygon points="512.33,54 510.1,51.3 510.1,56.7" fill="#ee8468"/>
<polygon points="518.17,54 522.4,49.7 526.63,54 522.4,58.3" fill="#e36c55" stroke="#c53334" stroke-width="1.2"/>
<polygon points="519.57,54 521.8,51.3 521.8,56.7" fill="#ee8468"/>
<polygon points="525.23,54 523,51.3 523,56.7" fill="#ee8468"/>
<polygon points="530.37,54 534.6,49.7 538.83,54 534.6,58.3" fill="#e36c55" stroke="#c53334" stroke-width="1.2"/>
<polygon points="531.77,54 534,51.3 534,56.7" fill="#ee8468"/>
<polygon points="537.43,54 535.2,51.3 535.2,56.7" fill="#ee8468"/>
<polygon points="542.57,54 546.8,49.7 551.03,54 546.8,58.3" fill="#e36c55" stroke="#c53334" stroke-width="1.2"/>
<polygon points="543.97,54 546.2,51.3 546.2,56.7" fill="#ee8468"/>
<polygon points="549.63,54 547.4,51.3 547.4,56.7" fill="#ee8468"/>
<polygon points="553.78,54 560,50 566.22,54 560,58" fill="#f7ac8e" stroke="#e36c55" stroke-width="0.9"/>
<polygon points="553.78,54 560,50 560,58" fill="#ee8468"/>
<polyline points="560,50 553.78,54 560,58" fill="none" stroke="#d65244" stroke-width="1" stroke-linejoin="round"/>
<polyline points="555.65,53 557.82,56.2" fill="none" stroke="#d65244" stroke-width="0.75" stroke-linejoin="round"/>
<polyline points="555.65,55 557.82,51.8" fill="none" stroke="#d65244" stroke-width="0.75" stroke-linejoin="round"/>
<rect x="560" y="25" width="61.8" height="5.8" fill="#cfdaea"/>
<rect x="560" y="26.85" width="61.8" height="2.1" fill="#c53334"/>
<ellipse cx="567.02" cy="27.9" rx="1.7" ry="2.1" fill="#c53334"/>
<ellipse cx="579.2" cy="27.9" rx="1.7" ry="2.1" fill="#c53334"/>
<ellipse cx="591.65" cy="27.9" rx="1.7" ry="2.1" fill="#c53334"/>
<ellipse cx="603.8" cy="27.9" rx="1.7" ry="2.1" fill="#c53334"/>
<ellipse cx="615.68" cy="27.9" rx="1.7" ry="2.1" fill="#c53334"/>
<polygon points="568.96,27.9 573.1,23.6 577.24,27.9 573.1,32.2" fill="#e36c55" stroke="#c53334" stroke-width="1.2"/>
<polygon points="570.36,27.9 572.5,25.2 572.5,30.6" fill="#ee8468"/>
<polygon points="575.84,27.9 573.7,25.2 573.7,30.6" fill="#ee8468"/>
<polygon points="581.16,27.9 585.3,23.6 589.44,27.9 585.3,32.2" fill="#e36c55" stroke="#c53334" stroke-width="1.2"/>
<polygon points="582.56,27.9 584.7,25.2 584.7,30.6" fill="#ee8468"/>
<polygon points="588.04,27.9 585.9,25.2 585.9,30.6" fill="#ee8468"/>
<polygon points="593.86,27.9 598,23.6 602.14,27.9 598,32.2" fill="#e36c55" stroke="#c53334" stroke-width="1.2"/>
<polygon points="595.26,27.9 597.4,25.2 597.4,30.6" fill="#ee8468"/>
<polygon points="600.74,27.9 598.6,25.2 598.6,30.6" fill="#ee8468"/>
<polygon points="605.46,27.9 609.6,23.6 613.74,27.9 609.6,32.2" fill="#e36c55" stroke="#c53334" stroke-width="1.2"/>
<polygon points="606.86,27.9 609,25.2 609,30.6" fill="#ee8468"/>
<polygon points="612.34,27.9 610.2,25.2 610.2,30.6" fill="#ee8468"/>
<polygon points="553.92,27.9 560,23.9 566.08,27.9 560,31.9" fill="#f7ac8e" stroke="#e36c55" stroke-width="0.9"/>
<polygon points="566.08,27.9 560,23.9 560,31.9" fill="#ee8468"/>
<polyline points="560,23.9 566.08,27.9 560,31.9" fill="none" stroke="#d65244" stroke-width="1" stroke-linejoin="round"/>
<polyline points="564.26,26.9 562.13,30.1" fill="none" stroke="#d65244" stroke-width="0.75" stroke-linejoin="round"/>
<polyline points="564.26,28.9 562.13,25.7" fill="none" stroke="#d65244" stroke-width="0.75" stroke-linejoin="round"/>
<polygon points="615.72,27.9 621.8,23.9 627.88,27.9 621.8,31.9" fill="#f7ac8e" stroke="#e36c55" stroke-width="0.9"/>
<polygon points="615.72,27.9 621.8,23.9 621.8,31.9" fill="#ee8468"/>
<polyline points="621.8,23.9 615.72,27.9 621.8,31.9" fill="none" stroke="#d65244" stroke-width="1" stroke-linejoin="round"/>
<polyline points="617.54,26.9 619.67,30.1" fill="none" stroke="#d65244" stroke-width="0.75" stroke-linejoin="round"/>
<polyline points="617.54,28.9 619.67,25.7" fill="none" stroke="#d65244" stroke-width="0.75" stroke-linejoin="round"/>
<rect x="560" y="42.4" width="61.8" height="5.8" fill="#cfdaea"/>
<rect x="560" y="44.25" width="61.8" height="2.1" fill="#c53334"/>
<ellipse cx="567.02" cy="45.3" rx="1.7" ry="2.1" fill="#c53334"/>
<ellipse cx="579.2" cy="45.3" rx="1.7" ry="2.1" fill="#c53334"/>
<ellipse cx="591.65" cy="45.3" rx="1.7" ry="2.1" fill="#c53334"/>
<ellipse cx="603.8" cy="45.3" rx="1.7" ry="2.1" fill="#c53334"/>
<ellipse cx="615.68" cy="45.3" rx="1.7" ry="2.1" fill="#c53334"/>
<polygon points="568.96,45.3 573.1,41 577.24,45.3 573.1,49.6" fill="#e36c55" stroke="#c53334" stroke-width="1.2"/>
<polygon points="570.36,45.3 572.5,42.6 572.5,48" fill="#ee8468"/>
<polygon points="575.84,45.3 573.7,42.6 573.7,48" fill="#ee8468"/>
<polygon points="581.16,45.3 585.3,41 589.44,45.3 585.3,49.6" fill="#e36c55" stroke="#c53334" stroke-width="1.2"/>
<polygon points="582.56,45.3 584.7,42.6 584.7,48" fill="#ee8468"/>
<polygon points="588.04,45.3 585.9,42.6 585.9,48" fill="#ee8468"/>
<polygon points="593.86,45.3 598,41 602.14,45.3 598,49.6" fill="#e36c55" stroke="#c53334" stroke-width="1.2"/>
<polygon points="595.26,45.3 597.4,42.6 597.4,48" fill="#ee8468"/>
<polygon points="600.74,45.3 598.6,42.6 598.6,48" fill="#ee8468"/>
<polygon points="605.46,45.3 609.6,41 613.74,45.3 609.6,49.6" fill="#e36c55" stroke="#c53334" stroke-width="1.2"/>
<polygon points="606.86,45.3 609,42.6 609,48" fill="#ee8468"/>
<polygon points="612.34,45.3 610.2,42.6 610.2,48" fill="#ee8468"/>
<polygon points="553.92,45.3 560,41.3 566.08,45.3 560,49.3" fill="#f7ac8e" stroke="#e36c55" stroke-width="0.9"/>
<polygon points="566.08,45.3 560,41.3 560,49.3" fill="#ee8468"/>
<polyline points="560,41.3 566.08,45.3 560,49.3" fill="none" stroke="#d65244" stroke-width="1" stroke-linejoin="round"/>
<polyline points="564.26,44.3 562.13,47.5" fill="none" stroke="#d65244" stroke-width="0.75" stroke-linejoin="round"/>
<polyline points="564.26,46.3 562.13,43.1" fill="none" stroke="#d65244" stroke-width="0.75" stroke-linejoin="round"/>
<polygon points="615.72,45.3 621.8,41.3 627.88,45.3 621.8,49.3" fill="#f7ac8e" stroke="#e36c55" stroke-width="0.9"/>
<polygon points="615.72,45.3 621.8,41.3 621.8,49.3" fill="#ee8468"/>
<polyline points="621.8,41.3 615.72,45.3 621.8,49.3" fill="none" stroke="#d65244" stroke-width="1" stroke-linejoin="round"/>
<polyline points="617.54,44.3 619.67,47.5" fill="none" stroke="#d65244" stroke-width="0.75" stroke-linejoin="round"/>
<polyline points="617.54,46.3 619.67,43.1" fill="none" stroke="#d65244" stroke-width="0.75" stroke-linejoin="round"/>
<rect x="560" y="59.8" width="61.8" height="5.8" fill="#cfdaea"/>
<rect x="560" y="61.65" width="61.8" height="2.1" fill="#c53334"/>
<ellipse cx="567.02" cy="62.7" rx="1.7" ry="2.1" fill="#c53334"/>
<ellipse cx="579.2" cy="62.7" rx="1.7" ry="2.1" fill="#c53334"/>
<ellipse cx="591.65" cy="62.7" rx="1.7" ry="2.1" fill="#c53334"/>
<ellipse cx="603.8" cy="62.7" rx="1.7" ry="2.1" fill="#c53334"/>
<ellipse cx="615.68" cy="62.7" rx="1.7" ry="2.1" fill="#c53334"/>
<polygon points="568.96,62.7 573.1,58.4 577.24,62.7 573.1,67" fill="#e36c55" stroke="#c53334" stroke-width="1.2"/>
<polygon points="570.36,62.7 572.5,60 572.5,65.4" fill="#ee8468"/>
<polygon points="575.84,62.7 573.7,60 573.7,65.4" fill="#ee8468"/>
<polygon points="581.16,62.7 585.3,58.4 589.44,62.7 585.3,67" fill="#e36c55" stroke="#c53334" stroke-width="1.2"/>
<polygon points="582.56,62.7 584.7,60 584.7,65.4" fill="#ee8468"/>
<polygon points="588.04,62.7 585.9,60 585.9,65.4" fill="#ee8468"/>
<polygon points="593.86,62.7 598,58.4 602.14,62.7 598,67" fill="#e36c55" stroke="#c53334" stroke-width="1.2"/>
<polygon points="595.26,62.7 597.4,60 597.4,65.4" fill="#ee8468"/>
<polygon points="600.74,62.7 598.6,60 598.6,65.4" fill="#ee8468"/>
<polygon points="605.46,62.7 609.6,58.4 613.74,62.7 609.6,67" fill="#e36c55" stroke="#c53334" stroke-width="1.2"/>
<polygon points="606.86,62.7 609,60 609,65.4" fill="#ee8468"/>
<polygon points="612.34,62.7 610.2,60 610.2,65.4" fill="#ee8468"/>
<polygon points="553.92,62.7 560,58.7 566.08,62.7 560,66.7" fill="#f7ac8e" stroke="#e36c55" stroke-width="0.9"/>
<polygon points="566.08,62.7 560,58.7 560,66.7" fill="#ee8468"/>
<polyline points="560,58.7 566.08,62.7 560,66.7" fill="none" stroke="#d65244" stroke-width="1" stroke-linejoin="round"/>
<polyline points="564.26,61.7 562.13,64.9" fill="none" stroke="#d65244" stroke-width="0.75" stroke-linejoin="round"/>
<polyline points="564.26,63.7 562.13,60.5" fill="none" stroke="#d65244" stroke-width="0.75" stroke-linejoin="round"/>
<polygon points="615.72,62.7 621.8,58.7 627.88,62.7 621.8,66.7" fill="#f7ac8e" stroke="#e36c55" stroke-width="0.9"/>
<polygon points="615.72,62.7 621.8,58.7 621.8,66.7" fill="#ee8468"/>
<polyline points="621.8,58.7 615.72,62.7 621.8,66.7" fill="none" stroke="#d65244" stroke-width="1" stroke-linejoin="round"/>
<polyline points="617.54,61.7 619.67,64.9" fill="none" stroke="#d65244" stroke-width="0.75" stroke-linejoin="round"/>
<polyline points="617.54,63.7 619.67,60.5" fill="none" stroke="#d65244" stroke-width="0.75" stroke-linejoin="round"/>
<rect x="610.3" y="33.7" width="50.1" height="5.8" fill="#cfdaea"/>
<rect x="610.3" y="35.55" width="50.1" height="2.1" fill="#c53334"/>
<ellipse cx="617.7" cy="36.6" rx="1.7" ry="2.1" fill="#c53334"/>
<ellipse cx="629.9" cy="36.6" rx="1.7" ry="2.1" fill="#c53334"/>
<ellipse cx="642.1" cy="36.6" rx="1.7" ry="2.1" fill="#c53334"/>
<ellipse cx="654.3" cy="36.6" rx="1.7" ry="2.1" fill="#c53334"/>
<polygon points="619.65,36.6 623.8,32.3 627.95,36.6 623.8,40.9" fill="#e36c55" stroke="#c53334" stroke-width="1.2"/>
<polygon points="621.05,36.6 623.2,33.9 623.2,39.3" fill="#ee8468"/>
<polygon points="626.55,36.6 624.4,33.9 624.4,39.3" fill="#ee8468"/>
<polygon points="631.85,36.6 636,32.3 640.15,36.6 636,40.9" fill="#e36c55" stroke="#c53334" stroke-width="1.2"/>
<polygon points="633.25,36.6 635.4,33.9 635.4,39.3" fill="#ee8468"/>
<polygon points="638.75,36.6 636.6,33.9 636.6,39.3" fill="#ee8468"/>
<polygon points="644.05,36.6 648.2,32.3 652.35,36.6 648.2,40.9" fill="#e36c55" stroke="#c53334" stroke-width="1.2"/>
<polygon points="645.45,36.6 647.6,33.9 647.6,39.3" fill="#ee8468"/>
<polygon points="650.95,36.6 648.8,33.9 648.8,39.3" fill="#ee8468"/>
<polygon points="604.2,36.6 610.3,32.6 616.4,36.6 610.3,40.6" fill="#f7ac8e" stroke="#e36c55" stroke-width="0.9"/>
<polygon points="616.4,36.6 610.3,32.6 610.3,40.6" fill="#ee8468"/>
<polyline points="610.3,32.6 616.4,36.6 610.3,40.6" fill="none" stroke="#d65244" stroke-width="1" stroke-linejoin="round"/>
<polyline points="614.57,35.6 612.43,38.8" fill="none" stroke="#d65244" stroke-width="0.75" stroke-linejoin="round"/>
<polyline points="614.57,37.6 612.43,34.4" fill="none" stroke="#d65244" stroke-width="0.75" stroke-linejoin="round"/>
<polygon points="654.3,36.6 660.4,32.6 666.5,36.6 660.4,40.6" fill="#f7ac8e" stroke="#e36c55" stroke-width="0.9"/>
<polygon points="654.3,36.6 660.4,32.6 660.4,40.6" fill="#ee8468"/>
<polyline points="660.4,32.6 654.3,36.6 660.4,40.6" fill="none" stroke="#d65244" stroke-width="1" stroke-linejoin="round"/>
<polyline points="656.13,35.6 658.26,38.8" fill="none" stroke="#d65244" stroke-width="0.75" stroke-linejoin="round"/>
<polyline points="656.13,37.6 658.26,34.4" fill="none" stroke="#d65244" stroke-width="0.75" stroke-linejoin="round"/>
<rect x="610.3" y="51.1" width="50.1" height="5.8" fill="#cfdaea"/>
<rect x="610.3" y="52.95" width="50.1" height="2.1" fill="#c53334"/>
<ellipse cx="617.7" cy="54" rx="1.7" ry="2.1" fill="#c53334"/>
<ellipse cx="629.9" cy="54" rx="1.7" ry="2.1" fill="#c53334"/>
<ellipse cx="642.1" cy="54" rx="1.7" ry="2.1" fill="#c53334"/>
<ellipse cx="654.3" cy="54" rx="1.7" ry="2.1" fill="#c53334"/>
<polygon points="619.65,54 623.8,49.7 627.95,54 623.8,58.3" fill="#e36c55" stroke="#c53334" stroke-width="1.2"/>
<polygon points="621.05,54 623.2,51.3 623.2,56.7" fill="#ee8468"/>
<polygon points="626.55,54 624.4,51.3 624.4,56.7" fill="#ee8468"/>
<polygon points="631.85,54 636,49.7 640.15,54 636,58.3" fill="#e36c55" stroke="#c53334" stroke-width="1.2"/>
<polygon points="633.25,54 635.4,51.3 635.4,56.7" fill="#ee8468"/>
<polygon points="638.75,54 636.6,51.3 636.6,56.7" fill="#ee8468"/>
<polygon points="644.05,54 648.2,49.7 652.35,54 648.2,58.3" fill="#e36c55" stroke="#c53334" stroke-width="1.2"/>
<polygon points="645.45,54 647.6,51.3 647.6,56.7" fill="#ee8468"/>
<polygon points="650.95,54 648.8,51.3 648.8,56.7" fill="#ee8468"/>
<polygon points="604.2,54 610.3,50 616.4,54 610.3,58" fill="#f7ac8e" stroke="#e36c55" stroke-width="0.9"/>
<polygon points="616.4,54 610.3,50 610.3,58" fill="#ee8468"/>
<polyline points="610.3,50 616.4,54 610.3,58" fill="none" stroke="#d65244" stroke-width="1" stroke-linejoin="round"/>
<polyline points="614.57,53 612.43,56.2" fill="none" stroke="#d65244" stroke-width="0.75" stroke-linejoin="round"/>
<polyline points="614.57,55 612.43,51.8" fill="none" stroke="#d65244" stroke-width="0.75" stroke-linejoin="round"/>
<polygon points="654.3,54 660.4,50 666.5,54 660.4,58" fill="#f7ac8e" stroke="#e36c55" stroke-width="0.9"/>
<polygon points="654.3,54 660.4,50 660.4,58" fill="#ee8468"/>
<polyline points="660.4,50 654.3,54 660.4,58" fill="none" stroke="#d65244" stroke-width="1" stroke-linejoin="round"/>
<polyline points="656.13,53 658.26,56.2" fill="none" stroke="#d65244" stroke-width="0.75" stroke-linejoin="round"/>
<polyline points="656.13,55 658.26,51.8" fill="none" stroke="#d65244" stroke-width="0.75" stroke-linejoin="round"/>
<rect x="660.4" y="25" width="19.6" height="5.8" fill="#cfdaea"/>
<rect x="660.4" y="26.85" width="19.6" height="2.1" fill="#c53334"/>
<ellipse cx="664.9" cy="27.9" rx="1.7" ry="2.1" fill="#c53334"/>
<ellipse cx="661.12" cy="27.9" rx="1.2" ry="1.6" fill="#c53334"/>
<ellipse cx="668.68" cy="27.9" rx="1.2" ry="1.6" fill="#c53334"/>
<ellipse cx="679.12" cy="27.9" rx="1.2" ry="1.6" fill="#c53334"/>
<polygon points="668.4,27.9 673.9,23.6 679.4,27.9 673.9,32.2" fill="#e36c55" stroke="#c53334" stroke-width="1.2"/>
<polygon points="669.8,27.9 673.3,25.2 673.3,30.6" fill="#ee8468"/>
<polygon points="678,27.9 674.5,25.2 674.5,30.6" fill="#ee8468"/>
<polygon points="653.6,27.9 660.4,23.9 667.2,27.9 660.4,31.9" fill="#f7ac8e" stroke="#e36c55" stroke-width="0.9"/>
<polygon points="667.2,27.9 660.4,23.9 660.4,31.9" fill="#ee8468"/>
<polyline points="660.4,23.9 667.2,27.9 660.4,31.9" fill="none" stroke="#d65244" stroke-width="1" stroke-linejoin="round"/>
<polyline points="665.16,26.9 662.78,30.1" fill="none" stroke="#d65244" stroke-width="0.75" stroke-linejoin="round"/>
<polyline points="665.16,28.9 662.78,25.7" fill="none" stroke="#d65244" stroke-width="0.75" stroke-linejoin="round"/>
<rect x="660.4" y="42.4" width="19.6" height="5.8" fill="#cfdaea"/>
<rect x="660.4" y="44.25" width="19.6" height="2.1" fill="#c53334"/>
<ellipse cx="664.9" cy="45.3" rx="1.7" ry="2.1" fill="#c53334"/>
<ellipse cx="661.12" cy="45.3" rx="1.2" ry="1.6" fill="#c53334"/>
<ellipse cx="668.68" cy="45.3" rx="1.2" ry="1.6" fill="#c53334"/>
<ellipse cx="679.12" cy="45.3" rx="1.2" ry="1.6" fill="#c53334"/>
<polygon points="668.4,45.3 673.9,41 679.4,45.3 673.9,49.6" fill="#e36c55" stroke="#c53334" stroke-width="1.2"/>
<polygon points="669.8,45.3 673.3,42.6 673.3,48" fill="#ee8468"/>
<polygon points="678,45.3 674.5,42.6 674.5,48" fill="#ee8468"/>
<polygon points="653.6,45.3 660.4,41.3 667.2,45.3 660.4,49.3" fill="#f7ac8e" stroke="#e36c55" stroke-width="0.9"/>
<polygon points="667.2,45.3 660.4,41.3 660.4,49.3" fill="#ee8468"/>
<polyline points="660.4,41.3 667.2,45.3 660.4,49.3" fill="none" stroke="#d65244" stroke-width="1" stroke-linejoin="round"/>
<polyline points="665.16,44.3 662.78,47.5" fill="none" stroke="#d65244" stroke-width="0.75" stroke-linejoin="round"/>
<polyline points="665.16,46.3 662.78,43.1" fill="none" stroke="#d65244" stroke-width="0.75" stroke-linejoin="round"/>
<rect x="660.4" y="59.8" width="19.6" height="5.8" fill="#cfdaea"/>
<rect x="660.4" y="61.65" width="19.6" height="2.1" fill="#c53334"/>
<ellipse cx="664.9" cy="62.7" rx="1.7" ry="2.1" fill="#c53334"/>
<ellipse cx="661.12" cy="62.7" rx="1.2" ry="1.6" fill="#c53334"/>
<ellipse cx="668.68" cy="62.7" rx="1.2" ry="1.6" fill="#c53334"/>
<ellipse cx="679.12" cy="62.7" rx="1.2" ry="1.6" fill="#c53334"/>
<polygon points="668.4,62.7 673.9,58.4 679.4,62.7 673.9,67" fill="#e36c55" stroke="#c53334" stroke-width="1.2"/>
<polygon points="669.8,62.7 673.3,60 673.3,65.4" fill="#ee8468"/>
<polygon points="678,62.7 674.5,60 674.5,65.4" fill="#ee8468"/>
<polygon points="653.6,62.7 660.4,58.7 667.2,62.7 660.4,66.7" fill="#f7ac8e" stroke="#e36c55" stroke-width="0.9"/>
<polygon points="667.2,62.7 660.4,58.7 660.4,66.7" fill="#ee8468"/>
<polyline points="660.4,58.7 667.2,62.7 660.4,66.7" fill="none" stroke="#d65244" stroke-width="1" stroke-linejoin="round"/>
<polyline points="665.16,61.7 662.78,64.9" fill="none" stroke="#d65244" stroke-width="0.75" stroke-linejoin="round"/>
<polyline points="665.16,63.7 662.78,60.5" fill="none" stroke="#d65244" stroke-width="0.75" stroke-linejoin="round"/>
</g></g>
<line x1="36" y1="22.3" x2="207.5" y2="22.3" stroke="#b5b5b5" stroke-width="1.2"/>
<line x1="36" y1="67.6" x2="207.5" y2="67.6" stroke="#b5b5b5" stroke-width="1.2"/>
<line x1="36" y1="22.3" x2="36" y2="67.6" stroke="#b5b5b5" stroke-width="1.2"/>
<line x1="207.5" y1="21.7" x2="207.5" y2="68.2" stroke="#5a5a5a" stroke-width="1"/>
<line x1="33.8" y1="27.5" x2="36" y2="27.5" stroke="#333" stroke-width="0.8"/>
<text x="32" y="30.5" font-size="7.9" text-anchor="end" fill="#262626" stroke="#262626" stroke-width="0.05" textLength="11.13" lengthAdjust="spacingAndGlyphs">0.2</text>
<line x1="33.8" y1="45.1" x2="36" y2="45.1" stroke="#333" stroke-width="0.8"/>
<text x="32" y="48.1" font-size="7.9" text-anchor="end" fill="#262626" stroke="#262626" stroke-width="0.05" textLength="11.13" lengthAdjust="spacingAndGlyphs">0.0</text>
<line x1="33.8" y1="62.9" x2="36" y2="62.9" stroke="#333" stroke-width="0.8"/>
<text x="32" y="65.9" font-size="7.9" text-anchor="end" fill="#262626" stroke="#262626" stroke-width="0.05" textLength="17" lengthAdjust="spacingAndGlyphs">−0.2</text>
<text x="11" y="45.1" font-size="7.2" text-anchor="middle" fill="#262626" stroke="#262626" stroke-width="0.05" textLength="28.69" lengthAdjust="spacingAndGlyphs" transform="rotate(-90 11 45.1)">Δx [µm]</text>
<line x1="271" y1="22.3" x2="442.4" y2="22.3" stroke="#b5b5b5" stroke-width="1.2"/>
<line x1="271" y1="67.6" x2="442.4" y2="67.6" stroke="#b5b5b5" stroke-width="1.2"/>
<line x1="271" y1="22.3" x2="271" y2="67.6" stroke="#b5b5b5" stroke-width="1.2"/>
<line x1="442.4" y1="21.7" x2="442.4" y2="68.2" stroke="#5a5a5a" stroke-width="1"/>
<line x1="268.8" y1="27.5" x2="271" y2="27.5" stroke="#333" stroke-width="0.8"/>
<text x="267" y="30.5" font-size="7.9" text-anchor="end" fill="#262626" stroke="#262626" stroke-width="0.05" textLength="11.13" lengthAdjust="spacingAndGlyphs">0.2</text>
<line x1="268.8" y1="45.1" x2="271" y2="45.1" stroke="#333" stroke-width="0.8"/>
<text x="267" y="48.1" font-size="7.9" text-anchor="end" fill="#262626" stroke="#262626" stroke-width="0.05" textLength="11.13" lengthAdjust="spacingAndGlyphs">0.0</text>
<line x1="268.8" y1="62.9" x2="271" y2="62.9" stroke="#333" stroke-width="0.8"/>
<text x="267" y="65.9" font-size="7.9" text-anchor="end" fill="#262626" stroke="#262626" stroke-width="0.05" textLength="17" lengthAdjust="spacingAndGlyphs">−0.2</text>
<text x="246" y="45.1" font-size="7.2" text-anchor="middle" fill="#262626" stroke="#262626" stroke-width="0.05" textLength="28.69" lengthAdjust="spacingAndGlyphs" transform="rotate(-90 246 45.1)">Δx [µm]</text>
<line x1="506.6" y1="22.3" x2="678.5" y2="22.3" stroke="#b5b5b5" stroke-width="1.2"/>
<line x1="506.6" y1="67.6" x2="678.5" y2="67.6" stroke="#b5b5b5" stroke-width="1.2"/>
<line x1="506.6" y1="22.3" x2="506.6" y2="67.6" stroke="#b5b5b5" stroke-width="1.2"/>
<line x1="678.5" y1="21.7" x2="678.5" y2="68.2" stroke="#5a5a5a" stroke-width="1"/>
<line x1="504.4" y1="27.5" x2="506.6" y2="27.5" stroke="#333" stroke-width="0.8"/>
<text x="502.6" y="30.5" font-size="7.9" text-anchor="end" fill="#262626" stroke="#262626" stroke-width="0.05" textLength="11.13" lengthAdjust="spacingAndGlyphs">0.2</text>
<line x1="504.4" y1="45.1" x2="506.6" y2="45.1" stroke="#333" stroke-width="0.8"/>
<text x="502.6" y="48.1" font-size="7.9" text-anchor="end" fill="#262626" stroke="#262626" stroke-width="0.05" textLength="11.13" lengthAdjust="spacingAndGlyphs">0.0</text>
<line x1="504.4" y1="62.9" x2="506.6" y2="62.9" stroke="#333" stroke-width="0.8"/>
<text x="502.6" y="65.9" font-size="7.9" text-anchor="end" fill="#262626" stroke="#262626" stroke-width="0.05" textLength="17" lengthAdjust="spacingAndGlyphs">−0.2</text>
<text x="481.6" y="45.1" font-size="7.2" text-anchor="middle" fill="#262626" stroke="#262626" stroke-width="0.05" textLength="28.69" lengthAdjust="spacingAndGlyphs" transform="rotate(-90 481.6 45.1)">Δx [µm]</text>
<g clip-path="url(#mc0)">
<polygon points="36.2,144.23 44.77,125.66 53.33,122.38 61.9,156.25 70.46,162.25 79.03,159.52 87.59,189.02 96.15,192.84 104.72,142.04 113.28,143.13 121.85,80.86 130.42,130.03 138.98,75.4 147.55,96.16 156.11,136.58 164.68,169.36 173.24,151.88 181.8,146.41 190.37,171.54 198.93,146.41 207.5,195.57 207.5,221.79 198.93,172.63 190.37,197.76 181.8,179.19 173.24,184.65 164.68,195.57 156.11,175.91 147.55,139.86 138.98,119.1 130.42,156.25 121.85,113.64 113.28,178.09 104.72,181.37 96.15,219.06 87.59,215.24 79.03,192.3 70.46,188.47 61.9,184.65 53.33,155.15 44.77,160.62 36.2,179.19" fill="#d62728" fill-opacity="0.2"/>
<polygon points="36.2,146.41 44.77,143.13 53.33,140.95 61.9,164.99 70.46,183.01 79.03,177 87.59,198.85 96.15,196.67 104.72,159.52 113.28,160.62 121.85,91.79 130.42,140.4 138.98,109.27 147.55,122.38 156.11,151.88 164.68,170.45 173.24,166.08 181.8,167.17 190.37,172.63 198.93,166.08 207.5,197.76 207.5,210.87 198.93,179.19 190.37,185.74 181.8,180.28 173.24,179.19 164.68,183.56 156.11,167.17 147.55,139.86 138.98,126.75 130.42,151.33 121.85,109.27 113.28,175.91 104.72,174.82 96.15,209.78 87.59,211.96 79.03,190.11 70.46,196.12 61.9,178.09 53.33,154.06 44.77,156.25 36.2,161.71" fill="#4040ff" fill-opacity="0.2"/>
<polyline points="36.2,154.06 44.77,149.69 53.33,147.5 61.9,171.54 70.46,189.57 79.03,183.56 87.59,205.41 96.15,203.22 104.72,167.17 113.28,168.26 121.85,100.53 130.42,145.87 138.98,118.01 147.55,131.12 156.11,159.52 164.68,177 173.24,172.63 181.8,173.72 190.37,179.19 198.93,172.63 207.5,204.31" fill="none" stroke="#1f1fff" stroke-width="1" stroke-linejoin="round"/>
<polyline points="36.2,161.71 44.77,143.13 53.33,138.76 61.9,170.45 70.46,175.36 79.03,175.91 87.59,202.13 96.15,205.95 104.72,161.71 113.28,160.62 121.85,97.25 130.42,143.13 138.98,97.25 147.55,118.01 156.11,156.25 164.68,182.47 173.24,168.26 181.8,162.8 190.37,184.65 198.93,159.52 207.5,208.69" fill="none" stroke="#ff1f1f" stroke-width="1" stroke-linejoin="round"/>
<polyline points="36.4,116.2 42.9,100.1 46,103.3 48.8,111.6 52.5,117.1 56.2,126.4 61.7,138.4 65.2,156.6 68.3,166 71.4,174.3 75.6,190.9 78.7,193.6 82.9,200.3 87,206.1 90.1,196.1 96.4,186.8 102.6,171.2 106.8,156.6 111.6,137.5 115.3,131 118.1,119.9 121.7,112.5 128.2,97.4 131.9,106 135.6,114.4 139.3,119 143,129.1 145.7,136.5 148.5,147.6 152.3,165 162.7,193 168.9,203.4 172.1,204.4 175.2,198.2 179.3,193 183.5,182.6 189.7,165 193.9,146.2 195.6,134.7 199.3,129.1 203.4,117.1" fill="none" stroke="#111" stroke-width="0.9" stroke-linejoin="round"/>
</g>
<line x1="36.2" y1="72.1" x2="207.5" y2="72.1" stroke="#b5b5b5" stroke-width="1.2"/>
<line x1="36.2" y1="226.5" x2="207.5" y2="226.5" stroke="#b5b5b5" stroke-width="1.2"/>
<line x1="36.2" y1="72.1" x2="36.2" y2="226.5" stroke="#b5b5b5" stroke-width="1.2"/>
<line x1="207.5" y1="71.5" x2="207.5" y2="227.1" stroke="#5a5a5a" stroke-width="1"/>
<line x1="34" y1="206.5" x2="36.2" y2="206.5" stroke="#333" stroke-width="0.8"/>
<text x="32.2" y="209.5" font-size="7.9" text-anchor="end" fill="#262626" stroke="#262626" stroke-width="0.05" textLength="11.13" lengthAdjust="spacingAndGlyphs">0.0</text>
<line x1="34" y1="184.65" x2="36.2" y2="184.65" stroke="#333" stroke-width="0.8"/>
<text x="32.2" y="187.65" font-size="7.9" text-anchor="end" fill="#262626" stroke="#262626" stroke-width="0.05" textLength="11.13" lengthAdjust="spacingAndGlyphs">0.2</text>
<line x1="34" y1="162.8" x2="36.2" y2="162.8" stroke="#333" stroke-width="0.8"/>
<text x="32.2" y="165.8" font-size="7.9" text-anchor="end" fill="#262626" stroke="#262626" stroke-width="0.05" textLength="11.13" lengthAdjust="spacingAndGlyphs">0.4</text>
<line x1="34" y1="140.95" x2="36.2" y2="140.95" stroke="#333" stroke-width="0.8"/>
<text x="32.2" y="143.95" font-size="7.9" text-anchor="end" fill="#262626" stroke="#262626" stroke-width="0.05" textLength="11.13" lengthAdjust="spacingAndGlyphs">0.6</text>
<line x1="34" y1="119.1" x2="36.2" y2="119.1" stroke="#333" stroke-width="0.8"/>
<text x="32.2" y="122.1" font-size="7.9" text-anchor="end" fill="#262626" stroke="#262626" stroke-width="0.05" textLength="11.13" lengthAdjust="spacingAndGlyphs">0.8</text>
<line x1="34" y1="97.25" x2="36.2" y2="97.25" stroke="#333" stroke-width="0.8"/>
<text x="32.2" y="100.25" font-size="7.9" text-anchor="end" fill="#262626" stroke="#262626" stroke-width="0.05" textLength="11.13" lengthAdjust="spacingAndGlyphs">1.0</text>
<line x1="34" y1="75.4" x2="36.2" y2="75.4" stroke="#333" stroke-width="0.8"/>
<text x="32.2" y="78.4" font-size="7.9" text-anchor="end" fill="#262626" stroke="#262626" stroke-width="0.05" textLength="11.13" lengthAdjust="spacingAndGlyphs">1.2</text>
<line x1="36.2" y1="226.5" x2="36.2" y2="228.7" stroke="#333" stroke-width="0.8"/>
<text x="36.2" y="236.5" font-size="7.9" text-anchor="middle" fill="#262626" stroke="#262626" stroke-width="0.05" textLength="11.13" lengthAdjust="spacingAndGlyphs">7.0</text>
<line x1="70.46" y1="226.5" x2="70.46" y2="228.7" stroke="#333" stroke-width="0.8"/>
<text x="70.46" y="236.5" font-size="7.9" text-anchor="middle" fill="#262626" stroke="#262626" stroke-width="0.05" textLength="11.13" lengthAdjust="spacingAndGlyphs">7.1</text>
<line x1="104.72" y1="226.5" x2="104.72" y2="228.7" stroke="#333" stroke-width="0.8"/>
<text x="104.72" y="236.5" font-size="7.9" text-anchor="middle" fill="#262626" stroke="#262626" stroke-width="0.05" textLength="11.13" lengthAdjust="spacingAndGlyphs">7.2</text>
<line x1="138.98" y1="226.5" x2="138.98" y2="228.7" stroke="#333" stroke-width="0.8"/>
<text x="138.98" y="236.5" font-size="7.9" text-anchor="middle" fill="#262626" stroke="#262626" stroke-width="0.05" textLength="11.13" lengthAdjust="spacingAndGlyphs">7.3</text>
<line x1="173.24" y1="226.5" x2="173.24" y2="228.7" stroke="#333" stroke-width="0.8"/>
<text x="173.24" y="236.5" font-size="7.9" text-anchor="middle" fill="#262626" stroke="#262626" stroke-width="0.05" textLength="11.13" lengthAdjust="spacingAndGlyphs">7.4</text>
<line x1="207.5" y1="226.5" x2="207.5" y2="228.7" stroke="#333" stroke-width="0.8"/>
<text x="207.5" y="236.5" font-size="7.9" text-anchor="middle" fill="#262626" stroke="#262626" stroke-width="0.05" textLength="11.13" lengthAdjust="spacingAndGlyphs">7.5</text>
<text x="121.85" y="244.6" font-size="7.2" text-anchor="middle" fill="#262626" stroke="#262626" stroke-width="0.05" textLength="30.64" lengthAdjust="spacingAndGlyphs">Δz [mm]</text>
<text x="17.3" y="149.4" font-size="7.2" text-anchor="middle" fill="#262626" stroke="#262626" stroke-width="0.05" textLength="55.02" lengthAdjust="spacingAndGlyphs" transform="rotate(-90 17.3 149.4)">TG signal [a.u.]</text>
<g clip-path="url(#mc1)">
<polygon points="271.5,158.64 280.1,161.68 288.69,155.48 297.29,201.4 305.88,201.9 314.48,208.73 323.07,139.67 331.66,81.22 340.26,79.58 348.85,109.94 357.45,130.18 366.05,153.58 374.64,144.73 383.24,115.63 391.83,154.85 400.43,179.64 409.02,183.94 417.61,173.44 426.21,189.51 434.8,144.73 443.4,91.59 443.4,104.25 434.8,157.38 426.21,199.63 417.61,183.56 409.02,194.06 400.43,189.76 391.83,167.5 383.24,128.28 374.64,157.38 366.05,166.23 357.45,142.83 348.85,122.59 340.26,96.02 331.66,97.67 323.07,152.31 314.48,218.85 305.88,212.02 297.29,211.52 288.69,168.13 280.1,174.33 271.5,171.29" fill="#d62728" fill-opacity="0.2"/>
<polygon points="271.5,157.38 280.1,129.55 288.69,138.65 297.29,173.19 305.88,201.4 314.48,208.73 323.07,151.05 331.66,79.58 340.26,84.64 348.85,113.61 357.45,124.86 366.05,152.31 374.64,144.09 383.24,118.16 391.83,174.2 400.43,190.9 409.02,181.41 417.61,190.27 426.21,194.06 434.8,159.91 443.4,104.25 443.4,116.9 434.8,172.56 426.21,206.71 417.61,202.92 409.02,194.06 400.43,203.55 391.83,186.85 383.24,133.34 374.64,156.74 366.05,164.97 357.45,137.51 348.85,126.26 340.26,101.08 331.66,96.02 323.07,163.7 314.48,218.85 305.88,211.52 297.29,185.84 288.69,153.83 280.1,149.79 271.5,170.03" fill="#4040ff" fill-opacity="0.2"/>
<polyline points="271.5,163.7 280.1,139.67 288.69,146.24 297.29,179.51 305.88,206.46 314.48,213.79 323.07,157.38 331.66,87.8 340.26,92.86 348.85,119.93 357.45,131.19 366.05,158.64 374.64,150.42 383.24,125.75 391.83,180.52 400.43,197.22 409.02,187.74 417.61,196.59 426.21,200.39 434.8,166.23 443.4,110.57" fill="none" stroke="#1f1fff" stroke-width="1" stroke-linejoin="round"/>
<polyline points="271.5,164.97 280.1,168 288.69,161.8 297.29,206.46 305.88,206.96 314.48,213.79 323.07,145.99 331.66,89.44 340.26,87.8 348.85,116.26 357.45,136.5 366.05,159.91 374.64,151.05 383.24,121.96 391.83,161.17 400.43,184.7 409.02,189 417.61,178.5 426.21,194.57 434.8,151.05 443.4,97.92" fill="none" stroke="#ff1f1f" stroke-width="1" stroke-linejoin="round"/>
<polyline points="276.4,98.7 279.7,90.3 282.9,98.7 286.6,125.5 289.8,152.5 295,171.2 300.2,192 303.3,213.8 306.4,200.3 310.6,201.3 313.7,188.9 317.2,184.7 321,162.9 324.5,136.5 327.8,126.4 330.9,129.1 334.6,114.4 338.3,97.4 340.2,98.1 344.8,116.2 348.9,131 351.5,123.6 358.5,142 365.7,160.7 369,151.8 372.4,167.5 378,156.6 383.1,145.2 387.3,154.6 392.5,158.7 396.7,148.3 402.9,174.3 407.1,171.2 410.2,172.2 413.7,168 417,178.5 420.6,158.7 424.7,140 427,135.6 430.6,133.8 434.3,112.5 438,95.9 441.4,86.6" fill="none" stroke="#111" stroke-width="0.9" stroke-linejoin="round"/>
</g>
<line x1="271.5" y1="72.1" x2="443.4" y2="72.1" stroke="#b5b5b5" stroke-width="1.2"/>
<line x1="271.5" y1="226.5" x2="443.4" y2="226.5" stroke="#b5b5b5" stroke-width="1.2"/>
<line x1="271.5" y1="72.1" x2="271.5" y2="226.5" stroke="#b5b5b5" stroke-width="1.2"/>
<line x1="443.4" y1="71.5" x2="443.4" y2="227.1" stroke="#5a5a5a" stroke-width="1"/>
<line x1="269.3" y1="214.3" x2="271.5" y2="214.3" stroke="#333" stroke-width="0.8"/>
<text x="267.5" y="217.3" font-size="7.9" text-anchor="end" fill="#262626" stroke="#262626" stroke-width="0.05" textLength="11.13" lengthAdjust="spacingAndGlyphs">0.0</text>
<line x1="269.3" y1="189" x2="271.5" y2="189" stroke="#333" stroke-width="0.8"/>
<text x="267.5" y="192" font-size="7.9" text-anchor="end" fill="#262626" stroke="#262626" stroke-width="0.05" textLength="11.13" lengthAdjust="spacingAndGlyphs">0.2</text>
<line x1="269.3" y1="163.7" x2="271.5" y2="163.7" stroke="#333" stroke-width="0.8"/>
<text x="267.5" y="166.7" font-size="7.9" text-anchor="end" fill="#262626" stroke="#262626" stroke-width="0.05" textLength="11.13" lengthAdjust="spacingAndGlyphs">0.4</text>
<line x1="269.3" y1="138.4" x2="271.5" y2="138.4" stroke="#333" stroke-width="0.8"/>
<text x="267.5" y="141.4" font-size="7.9" text-anchor="end" fill="#262626" stroke="#262626" stroke-width="0.05" textLength="11.13" lengthAdjust="spacingAndGlyphs">0.6</text>
<line x1="269.3" y1="113.1" x2="271.5" y2="113.1" stroke="#333" stroke-width="0.8"/>
<text x="267.5" y="116.1" font-size="7.9" text-anchor="end" fill="#262626" stroke="#262626" stroke-width="0.05" textLength="11.13" lengthAdjust="spacingAndGlyphs">0.8</text>
<line x1="269.3" y1="87.8" x2="271.5" y2="87.8" stroke="#333" stroke-width="0.8"/>
<text x="267.5" y="90.8" font-size="7.9" text-anchor="end" fill="#262626" stroke="#262626" stroke-width="0.05" textLength="11.13" lengthAdjust="spacingAndGlyphs">1.0</text>
<line x1="271.5" y1="226.5" x2="271.5" y2="228.7" stroke="#333" stroke-width="0.8"/>
<text x="271.5" y="236.5" font-size="7.9" text-anchor="middle" fill="#262626" stroke="#262626" stroke-width="0.05" textLength="11.13" lengthAdjust="spacingAndGlyphs">7.0</text>
<line x1="305.88" y1="226.5" x2="305.88" y2="228.7" stroke="#333" stroke-width="0.8"/>
<text x="305.88" y="236.5" font-size="7.9" text-anchor="middle" fill="#262626" stroke="#262626" stroke-width="0.05" textLength="11.13" lengthAdjust="spacingAndGlyphs">7.1</text>
<line x1="340.26" y1="226.5" x2="340.26" y2="228.7" stroke="#333" stroke-width="0.8"/>
<text x="340.26" y="236.5" font-size="7.9" text-anchor="middle" fill="#262626" stroke="#262626" stroke-width="0.05" textLength="11.13" lengthAdjust="spacingAndGlyphs">7.2</text>
<line x1="374.64" y1="226.5" x2="374.64" y2="228.7" stroke="#333" stroke-width="0.8"/>
<text x="374.64" y="236.5" font-size="7.9" text-anchor="middle" fill="#262626" stroke="#262626" stroke-width="0.05" textLength="11.13" lengthAdjust="spacingAndGlyphs">7.3</text>
<line x1="409.02" y1="226.5" x2="409.02" y2="228.7" stroke="#333" stroke-width="0.8"/>
<text x="409.02" y="236.5" font-size="7.9" text-anchor="middle" fill="#262626" stroke="#262626" stroke-width="0.05" textLength="11.13" lengthAdjust="spacingAndGlyphs">7.4</text>
<line x1="443.4" y1="226.5" x2="443.4" y2="228.7" stroke="#333" stroke-width="0.8"/>
<text x="443.4" y="236.5" font-size="7.9" text-anchor="middle" fill="#262626" stroke="#262626" stroke-width="0.05" textLength="11.13" lengthAdjust="spacingAndGlyphs">7.5</text>
<text x="357.45" y="244.6" font-size="7.2" text-anchor="middle" fill="#262626" stroke="#262626" stroke-width="0.05" textLength="30.64" lengthAdjust="spacingAndGlyphs">Δz [mm]</text>
<text x="252.6" y="149.4" font-size="7.2" text-anchor="middle" fill="#262626" stroke="#262626" stroke-width="0.05" textLength="55.02" lengthAdjust="spacingAndGlyphs" transform="rotate(-90 252.6 149.4)">TG signal [a.u.]</text>
<g clip-path="url(#mc2)">
<polygon points="507.2,169.55 515.79,194.42 524.37,134.39 532.96,165.88 541.54,193.31 550.12,156.07 558.71,165.26 567.29,157.67 575.88,173.59 584.46,184 593.05,83.8 601.64,159.01 610.22,153.62 618.81,179.84 627.39,190.38 635.97,179.84 644.56,170.41 653.14,178.86 661.73,132.8 670.31,143.82 678.9,205.81 678.9,215.61 670.31,153.62 661.73,142.6 653.14,188.66 644.56,180.21 635.97,189.64 627.39,200.17 618.81,189.64 610.22,163.42 601.64,168.81 593.05,93.6 584.46,193.8 575.88,183.39 567.29,167.47 558.71,175.06 550.12,165.88 541.54,203.11 532.96,175.67 524.37,144.19 515.79,204.22 507.2,179.35" fill="#d62728" fill-opacity="0.2"/>
<polygon points="507.2,153.62 515.79,165.88 524.37,110.75 532.96,140.15 541.54,186.82 550.12,128.63 558.71,149.7 567.29,141.86 575.88,159.38 584.46,161.1 593.05,83.8 601.64,148.72 610.22,131.57 618.81,180.57 627.39,185.6 635.97,181.8 644.56,137.7 653.14,167.1 661.73,114.42 670.31,127.9 678.9,202.62 678.9,214.88 670.31,152.4 661.73,138.93 653.14,179.35 644.56,154.85 635.97,194.05 627.39,200.3 618.81,192.82 610.22,148.72 601.64,160.97 593.05,100.95 584.46,178.25 575.88,176.53 567.29,159.01 558.71,166.85 550.12,148.23 541.54,199.07 532.96,159.75 524.37,135.25 515.79,180.57 507.2,168.32" fill="#4040ff" fill-opacity="0.2"/>
<polyline points="507.2,160.97 515.79,173.22 524.37,123 532.96,149.95 541.54,192.95 550.12,138.44 558.71,158.28 567.29,150.44 575.88,167.96 584.46,169.67 593.05,92.37 601.64,154.85 610.22,140.15 618.81,186.7 627.39,192.95 635.97,187.92 644.56,146.27 653.14,173.22 661.73,126.67 670.31,140.15 678.9,208.75" fill="none" stroke="#1f1fff" stroke-width="1" stroke-linejoin="round"/>
<polyline points="507.2,174.45 515.79,199.32 524.37,139.29 532.96,170.77 541.54,198.21 550.12,160.97 558.71,170.16 567.29,162.57 575.88,178.49 584.46,188.91 593.05,88.7 601.64,163.91 610.22,158.52 618.81,184.74 627.39,195.27 635.97,184.74 644.56,175.31 653.14,183.76 661.73,137.7 670.31,148.72 678.9,210.71" fill="none" stroke="#ff1f1f" stroke-width="1" stroke-linejoin="round"/>
<polyline points="507.4,160.5 516.1,179.3 524.4,122.1 533.1,146.3 541.5,210.7 550.2,190.9 558.9,171.1 567.6,189.9 576.3,193.6 585,174.4 594.2,88.7 603,150 611.9,186.8 622.3,191 630.6,185.7 639.3,157.7 648.3,176.4 657.6,137.7 667,152.5 674.2,181.6 678.4,194" fill="none" stroke="#111" stroke-width="0.9" stroke-linejoin="round"/>
</g>
<line x1="507.2" y1="72.1" x2="678.9" y2="72.1" stroke="#b5b5b5" stroke-width="1.2"/>
<line x1="507.2" y1="226.5" x2="678.9" y2="226.5" stroke="#b5b5b5" stroke-width="1.2"/>
<line x1="507.2" y1="72.1" x2="507.2" y2="226.5" stroke="#b5b5b5" stroke-width="1.2"/>
<line x1="678.9" y1="71.5" x2="678.9" y2="227.1" stroke="#5a5a5a" stroke-width="1"/>
<line x1="505" y1="211.2" x2="507.2" y2="211.2" stroke="#333" stroke-width="0.8"/>
<text x="503.2" y="214.2" font-size="7.9" text-anchor="end" fill="#262626" stroke="#262626" stroke-width="0.05" textLength="11.13" lengthAdjust="spacingAndGlyphs">0.0</text>
<line x1="505" y1="186.7" x2="507.2" y2="186.7" stroke="#333" stroke-width="0.8"/>
<text x="503.2" y="189.7" font-size="7.9" text-anchor="end" fill="#262626" stroke="#262626" stroke-width="0.05" textLength="11.13" lengthAdjust="spacingAndGlyphs">0.2</text>
<line x1="505" y1="162.2" x2="507.2" y2="162.2" stroke="#333" stroke-width="0.8"/>
<text x="503.2" y="165.2" font-size="7.9" text-anchor="end" fill="#262626" stroke="#262626" stroke-width="0.05" textLength="11.13" lengthAdjust="spacingAndGlyphs">0.4</text>
<line x1="505" y1="137.7" x2="507.2" y2="137.7" stroke="#333" stroke-width="0.8"/>
<text x="503.2" y="140.7" font-size="7.9" text-anchor="end" fill="#262626" stroke="#262626" stroke-width="0.05" textLength="11.13" lengthAdjust="spacingAndGlyphs">0.6</text>
<line x1="505" y1="113.2" x2="507.2" y2="113.2" stroke="#333" stroke-width="0.8"/>
<text x="503.2" y="116.2" font-size="7.9" text-anchor="end" fill="#262626" stroke="#262626" stroke-width="0.05" textLength="11.13" lengthAdjust="spacingAndGlyphs">0.8</text>
<line x1="505" y1="88.7" x2="507.2" y2="88.7" stroke="#333" stroke-width="0.8"/>
<text x="503.2" y="91.7" font-size="7.9" text-anchor="end" fill="#262626" stroke="#262626" stroke-width="0.05" textLength="11.13" lengthAdjust="spacingAndGlyphs">1.0</text>
<line x1="507.2" y1="226.5" x2="507.2" y2="228.7" stroke="#333" stroke-width="0.8"/>
<text x="507.2" y="236.5" font-size="7.9" text-anchor="middle" fill="#262626" stroke="#262626" stroke-width="0.05" textLength="11.13" lengthAdjust="spacingAndGlyphs">7.0</text>
<line x1="541.54" y1="226.5" x2="541.54" y2="228.7" stroke="#333" stroke-width="0.8"/>
<text x="541.54" y="236.5" font-size="7.9" text-anchor="middle" fill="#262626" stroke="#262626" stroke-width="0.05" textLength="11.13" lengthAdjust="spacingAndGlyphs">7.1</text>
<line x1="575.88" y1="226.5" x2="575.88" y2="228.7" stroke="#333" stroke-width="0.8"/>
<text x="575.88" y="236.5" font-size="7.9" text-anchor="middle" fill="#262626" stroke="#262626" stroke-width="0.05" textLength="11.13" lengthAdjust="spacingAndGlyphs">7.2</text>
<line x1="610.22" y1="226.5" x2="610.22" y2="228.7" stroke="#333" stroke-width="0.8"/>
<text x="610.22" y="236.5" font-size="7.9" text-anchor="middle" fill="#262626" stroke="#262626" stroke-width="0.05" textLength="11.13" lengthAdjust="spacingAndGlyphs">7.3</text>
<line x1="644.56" y1="226.5" x2="644.56" y2="228.7" stroke="#333" stroke-width="0.8"/>
<text x="644.56" y="236.5" font-size="7.9" text-anchor="middle" fill="#262626" stroke="#262626" stroke-width="0.05" textLength="11.13" lengthAdjust="spacingAndGlyphs">7.4</text>
<line x1="678.9" y1="226.5" x2="678.9" y2="228.7" stroke="#333" stroke-width="0.8"/>
<text x="678.9" y="236.5" font-size="7.9" text-anchor="middle" fill="#262626" stroke="#262626" stroke-width="0.05" textLength="11.13" lengthAdjust="spacingAndGlyphs">7.5</text>
<text x="593.05" y="244.6" font-size="7.2" text-anchor="middle" fill="#262626" stroke="#262626" stroke-width="0.05" textLength="30.64" lengthAdjust="spacingAndGlyphs">Δz [mm]</text>
<text x="488.3" y="149.4" font-size="7.2" text-anchor="middle" fill="#262626" stroke="#262626" stroke-width="0.05" textLength="55.02" lengthAdjust="spacingAndGlyphs" transform="rotate(-90 488.3 149.4)">TG signal [a.u.]</text>
<rect x="164.1" y="75.3" width="40.4" height="28.3" rx="1.2" fill="#fff" fill-opacity="0.85" stroke="#dcdcdc" stroke-width="0.8"/>
<line x1="165.9" y1="80.1" x2="179.1" y2="80.1" stroke="#7f7fff" stroke-width="1.7"/>
<text x="183.7" y="82.6" font-size="6.3" fill="#303030" textLength="16.81" lengthAdjust="spacingAndGlyphs">t-XTG</text>
<line x1="165.9" y1="89.2" x2="179.1" y2="89.2" stroke="#ff8585" stroke-width="1.7"/>
<text x="183.7" y="91.7" font-size="6.3" fill="#303030" textLength="18.29" lengthAdjust="spacingAndGlyphs">d-XTG</text>
<line x1="165.9" y1="98.2" x2="179.1" y2="98.2" stroke="#808080" stroke-width="1.7"/>
<text x="183.7" y="100.7" font-size="6.3" fill="#303030" textLength="11.51" lengthAdjust="spacingAndGlyphs">Sim</text>
<rect x="337.3" y="194.6" width="40.1" height="29" rx="1.2" fill="#fff" fill-opacity="0.85" stroke="#dcdcdc" stroke-width="0.8"/>
<line x1="339" y1="199.7" x2="352.2" y2="199.7" stroke="#7f7fff" stroke-width="1.7"/>
<text x="356.7" y="202.2" font-size="6.3" fill="#303030" textLength="16.81" lengthAdjust="spacingAndGlyphs">t-XTG</text>
<line x1="339" y1="208.9" x2="352.2" y2="208.9" stroke="#ff8585" stroke-width="1.7"/>
<text x="356.7" y="211.4" font-size="6.3" fill="#303030" textLength="18.29" lengthAdjust="spacingAndGlyphs">d-XTG</text>
<line x1="339" y1="218" x2="352.2" y2="218" stroke="#808080" stroke-width="1.7"/>
<text x="356.7" y="220.5" font-size="6.3" fill="#303030" textLength="11.51" lengthAdjust="spacingAndGlyphs">Sim</text>
<rect x="635.2" y="75.2" width="40.3" height="29" rx="1.2" fill="#fff" fill-opacity="0.85" stroke="#dcdcdc" stroke-width="0.8"/>
<line x1="637.4" y1="80.2" x2="650" y2="80.2" stroke="#7f7fff" stroke-width="1.7"/>
<text x="654.6" y="82.7" font-size="6.3" fill="#303030" textLength="16.81" lengthAdjust="spacingAndGlyphs">t-XTG</text>
<line x1="637.4" y1="89" x2="650" y2="89" stroke="#ff8585" stroke-width="1.7"/>
<text x="654.6" y="91.5" font-size="6.3" fill="#303030" textLength="18.29" lengthAdjust="spacingAndGlyphs">d-XTG</text>
<line x1="637.4" y1="98.1" x2="650" y2="98.1" stroke="#808080" stroke-width="1.7"/>
<text x="654.6" y="100.6" font-size="6.3" fill="#303030" textLength="11.51" lengthAdjust="spacingAndGlyphs">Sim</text>
<g clip-path="url(#bc0)">
<polyline points="55.2,375.7 64.6,400.7 69.8,379.9 77.7,392 92.8,375.3 118.7,328.9 200.1,356.4" fill="none" stroke="#1f1fff" stroke-width="1" stroke-linejoin="round"/>
<polyline points="55.2,371 57.5,393.4 60.4,382 64.6,388.2 69.8,376.8 77.7,386.1 91.8,373.7 118.7,323.8 200.1,351.4" fill="none" stroke="#ff1f1f" stroke-width="1" stroke-linejoin="round"/>
<polyline points="43.4,405.3 45.5,405 46.1,398.6 47,404.5 49.6,405.3 52.7,399.6 54.4,403.8 56.9,404.2 60,405.3 63.1,404.4 75.6,404.4 89.1,402.3 114.8,265.2 192.2,403.2" fill="none" stroke="#111" stroke-width="0.9" stroke-linejoin="round"/>
</g>
<line x1="36.2" y1="257.6" x2="207.5" y2="257.6" stroke="#b5b5b5" stroke-width="1.2"/>
<line x1="36.2" y1="412.3" x2="207.5" y2="412.3" stroke="#b5b5b5" stroke-width="1.2"/>
<line x1="36.2" y1="257.6" x2="36.2" y2="412.3" stroke="#b5b5b5" stroke-width="1.2"/>
<line x1="207.5" y1="257" x2="207.5" y2="412.9" stroke="#5a5a5a" stroke-width="1"/>
<line x1="34" y1="405.7" x2="36.2" y2="405.7" stroke="#333" stroke-width="0.8"/>
<text x="32.2" y="408.7" font-size="7.9" text-anchor="end" fill="#262626" stroke="#262626" stroke-width="0.05" textLength="11.13" lengthAdjust="spacingAndGlyphs">0.0</text>
<line x1="34" y1="373.9" x2="36.2" y2="373.9" stroke="#333" stroke-width="0.8"/>
<text x="32.2" y="376.9" font-size="7.9" text-anchor="end" fill="#262626" stroke="#262626" stroke-width="0.05" textLength="11.13" lengthAdjust="spacingAndGlyphs">0.1</text>
<line x1="34" y1="342.1" x2="36.2" y2="342.1" stroke="#333" stroke-width="0.8"/>
<text x="32.2" y="345.1" font-size="7.9" text-anchor="end" fill="#262626" stroke="#262626" stroke-width="0.05" textLength="11.13" lengthAdjust="spacingAndGlyphs">0.2</text>
<line x1="34" y1="310.3" x2="36.2" y2="310.3" stroke="#333" stroke-width="0.8"/>
<text x="32.2" y="313.3" font-size="7.9" text-anchor="end" fill="#262626" stroke="#262626" stroke-width="0.05" textLength="11.13" lengthAdjust="spacingAndGlyphs">0.3</text>
<line x1="34" y1="278.5" x2="36.2" y2="278.5" stroke="#333" stroke-width="0.8"/>
<text x="32.2" y="281.5" font-size="7.9" text-anchor="end" fill="#262626" stroke="#262626" stroke-width="0.05" textLength="11.13" lengthAdjust="spacingAndGlyphs">0.4</text>
<line x1="37.5" y1="412.3" x2="37.5" y2="414.5" stroke="#333" stroke-width="0.8"/>
<text x="37.5" y="422.3" font-size="7.9" text-anchor="middle" fill="#262626" stroke="#262626" stroke-width="0.05" textLength="11.13" lengthAdjust="spacingAndGlyphs">0.0</text>
<line x1="68.45" y1="412.3" x2="68.45" y2="414.5" stroke="#333" stroke-width="0.8"/>
<text x="68.45" y="422.3" font-size="7.9" text-anchor="middle" fill="#262626" stroke="#262626" stroke-width="0.05" textLength="11.13" lengthAdjust="spacingAndGlyphs">0.1</text>
<line x1="99.4" y1="412.3" x2="99.4" y2="414.5" stroke="#333" stroke-width="0.8"/>
<text x="99.4" y="422.3" font-size="7.9" text-anchor="middle" fill="#262626" stroke="#262626" stroke-width="0.05" textLength="11.13" lengthAdjust="spacingAndGlyphs">0.2</text>
<line x1="130.35" y1="412.3" x2="130.35" y2="414.5" stroke="#333" stroke-width="0.8"/>
<text x="130.35" y="422.3" font-size="7.9" text-anchor="middle" fill="#262626" stroke="#262626" stroke-width="0.05" textLength="11.13" lengthAdjust="spacingAndGlyphs">0.3</text>
<line x1="161.3" y1="412.3" x2="161.3" y2="414.5" stroke="#333" stroke-width="0.8"/>
<text x="161.3" y="422.3" font-size="7.9" text-anchor="middle" fill="#262626" stroke="#262626" stroke-width="0.05" textLength="11.13" lengthAdjust="spacingAndGlyphs">0.4</text>
<line x1="192.25" y1="412.3" x2="192.25" y2="414.5" stroke="#333" stroke-width="0.8"/>
<text x="192.25" y="422.3" font-size="7.9" text-anchor="middle" fill="#262626" stroke="#262626" stroke-width="0.05" textLength="11.13" lengthAdjust="spacingAndGlyphs">0.5</text>
<text x="17.8" y="334.7" font-size="7.2" text-anchor="middle" fill="#262626" stroke="#262626" stroke-width="0.05" textLength="69.06" lengthAdjust="spacingAndGlyphs" transform="rotate(-90 17.8 334.7)">FT Amplitude [a.u.]</text>
<text x="107.65" y="430.9" font-size="7.6" font-style="italic" fill="#262626" stroke="#262626" stroke-width="0.05">λ</text>
<text x="112.35" y="432.2" font-size="5.4" font-style="italic" fill="#262626" stroke="#262626" stroke-width="0.05">z</text>
<text x="117.55" y="430.9" font-size="7.4" text-anchor="start" fill="#262626" stroke="#262626" stroke-width="0.05" textLength="18.9" lengthAdjust="spacingAndGlyphs">[mm]</text>
<g clip-path="url(#bc1)">
<polyline points="290.4,381.6 293.5,372.6 295.6,347.7 299.8,361.2 305.4,361.6 327.2,298.4 353.9,265.2 435.8,319.3" fill="none" stroke="#1f1fff" stroke-width="1" stroke-linejoin="round"/>
<polyline points="290.4,373 295.6,369.5 299.8,352.5 305.4,361.6 312.7,349.8 326.7,286.4 353.9,271.6 435.8,315.6" fill="none" stroke="#ff1f1f" stroke-width="1" stroke-linejoin="round"/>
<polyline points="279,405.3 279.8,393.4 281.1,403.8 283.6,401.7 285.2,373.7 286.7,402.8 289.8,403.8 291.5,397.6 294.4,401.7 297.1,399.6 310.6,397.6 323.5,278.7 348.5,267.9 424.7,398.2" fill="none" stroke="#111" stroke-width="0.9" stroke-linejoin="round"/>
</g>
<line x1="271.5" y1="257.6" x2="443.4" y2="257.6" stroke="#b5b5b5" stroke-width="1.2"/>
<line x1="271.5" y1="412.3" x2="443.4" y2="412.3" stroke="#b5b5b5" stroke-width="1.2"/>
<line x1="271.5" y1="257.6" x2="271.5" y2="412.3" stroke="#b5b5b5" stroke-width="1.2"/>
<line x1="443.4" y1="257" x2="443.4" y2="412.9" stroke="#5a5a5a" stroke-width="1"/>
<line x1="269.3" y1="406.2" x2="271.5" y2="406.2" stroke="#333" stroke-width="0.8"/>
<text x="267.5" y="409.2" font-size="7.9" text-anchor="end" fill="#262626" stroke="#262626" stroke-width="0.05" textLength="15.59" lengthAdjust="spacingAndGlyphs">0.00</text>
<line x1="269.3" y1="378.1" x2="271.5" y2="378.1" stroke="#333" stroke-width="0.8"/>
<text x="267.5" y="381.1" font-size="7.9" text-anchor="end" fill="#262626" stroke="#262626" stroke-width="0.05" textLength="15.59" lengthAdjust="spacingAndGlyphs">0.05</text>
<line x1="269.3" y1="350" x2="271.5" y2="350" stroke="#333" stroke-width="0.8"/>
<text x="267.5" y="353" font-size="7.9" text-anchor="end" fill="#262626" stroke="#262626" stroke-width="0.05" textLength="15.59" lengthAdjust="spacingAndGlyphs">0.10</text>
<line x1="269.3" y1="321.9" x2="271.5" y2="321.9" stroke="#333" stroke-width="0.8"/>
<text x="267.5" y="324.9" font-size="7.9" text-anchor="end" fill="#262626" stroke="#262626" stroke-width="0.05" textLength="15.59" lengthAdjust="spacingAndGlyphs">0.15</text>
<line x1="269.3" y1="293.8" x2="271.5" y2="293.8" stroke="#333" stroke-width="0.8"/>
<text x="267.5" y="296.8" font-size="7.9" text-anchor="end" fill="#262626" stroke="#262626" stroke-width="0.05" textLength="15.59" lengthAdjust="spacingAndGlyphs">0.20</text>
<line x1="269.3" y1="265.7" x2="271.5" y2="265.7" stroke="#333" stroke-width="0.8"/>
<text x="267.5" y="268.7" font-size="7.9" text-anchor="end" fill="#262626" stroke="#262626" stroke-width="0.05" textLength="15.59" lengthAdjust="spacingAndGlyphs">0.25</text>
<line x1="272.6" y1="412.3" x2="272.6" y2="414.5" stroke="#333" stroke-width="0.8"/>
<text x="272.6" y="422.3" font-size="7.9" text-anchor="middle" fill="#262626" stroke="#262626" stroke-width="0.05" textLength="11.13" lengthAdjust="spacingAndGlyphs">0.0</text>
<line x1="303.72" y1="412.3" x2="303.72" y2="414.5" stroke="#333" stroke-width="0.8"/>
<text x="303.72" y="422.3" font-size="7.9" text-anchor="middle" fill="#262626" stroke="#262626" stroke-width="0.05" textLength="11.13" lengthAdjust="spacingAndGlyphs">0.1</text>
<line x1="334.84" y1="412.3" x2="334.84" y2="414.5" stroke="#333" stroke-width="0.8"/>
<text x="334.84" y="422.3" font-size="7.9" text-anchor="middle" fill="#262626" stroke="#262626" stroke-width="0.05" textLength="11.13" lengthAdjust="spacingAndGlyphs">0.2</text>
<line x1="365.96" y1="412.3" x2="365.96" y2="414.5" stroke="#333" stroke-width="0.8"/>
<text x="365.96" y="422.3" font-size="7.9" text-anchor="middle" fill="#262626" stroke="#262626" stroke-width="0.05" textLength="11.13" lengthAdjust="spacingAndGlyphs">0.3</text>
<line x1="397.08" y1="412.3" x2="397.08" y2="414.5" stroke="#333" stroke-width="0.8"/>
<text x="397.08" y="422.3" font-size="7.9" text-anchor="middle" fill="#262626" stroke="#262626" stroke-width="0.05" textLength="11.13" lengthAdjust="spacingAndGlyphs">0.4</text>
<line x1="428.2" y1="412.3" x2="428.2" y2="414.5" stroke="#333" stroke-width="0.8"/>
<text x="428.2" y="422.3" font-size="7.9" text-anchor="middle" fill="#262626" stroke="#262626" stroke-width="0.05" textLength="11.13" lengthAdjust="spacingAndGlyphs">0.5</text>
<text x="248.9" y="334.7" font-size="7.2" text-anchor="middle" fill="#262626" stroke="#262626" stroke-width="0.05" textLength="69.06" lengthAdjust="spacingAndGlyphs" transform="rotate(-90 248.9 334.7)">FT Amplitude [a.u.]</text>
<text x="343.25" y="430.9" font-size="7.6" font-style="italic" fill="#262626" stroke="#262626" stroke-width="0.05">λ</text>
<text x="347.95" y="432.2" font-size="5.4" font-style="italic" fill="#262626" stroke="#262626" stroke-width="0.05">z</text>
<text x="353.15" y="430.9" font-size="7.4" text-anchor="start" fill="#262626" stroke="#262626" stroke-width="0.05" textLength="18.9" lengthAdjust="spacingAndGlyphs">[mm]</text>
<g clip-path="url(#bc2)">
<polyline points="526.2,326 529,315.1 535.1,380.1 541,322.5 547.6,334.4 562.7,313.8 590.2,352 671.1,368.7" fill="none" stroke="#1f1fff" stroke-width="1" stroke-linejoin="round"/>
<polyline points="526.2,343.7 529,304.9 535.8,400.9 541,309.5 549.1,371.8 562.7,317.8 590.2,355.1 671.1,369.3" fill="none" stroke="#ff1f1f" stroke-width="1" stroke-linejoin="round"/>
<polyline points="526.8,351 534.1,390.5 539.2,264.6 546.6,336.4 559.5,299.9 584.5,314.5 661.8,382.2" fill="none" stroke="#111" stroke-width="0.9" stroke-linejoin="round"/>
</g>
<line x1="507.2" y1="257.6" x2="678.9" y2="257.6" stroke="#b5b5b5" stroke-width="1.2"/>
<line x1="507.2" y1="412.3" x2="678.9" y2="412.3" stroke="#b5b5b5" stroke-width="1.2"/>
<line x1="507.2" y1="257.6" x2="507.2" y2="412.3" stroke="#b5b5b5" stroke-width="1.2"/>
<line x1="678.9" y1="257" x2="678.9" y2="412.9" stroke="#5a5a5a" stroke-width="1"/>
<line x1="505" y1="412.2" x2="507.2" y2="412.2" stroke="#333" stroke-width="0.8"/>
<text x="503.2" y="415.2" font-size="7.9" text-anchor="end" fill="#262626" stroke="#262626" stroke-width="0.05" textLength="15.59" lengthAdjust="spacingAndGlyphs">0.00</text>
<line x1="505" y1="376.9" x2="507.2" y2="376.9" stroke="#333" stroke-width="0.8"/>
<text x="503.2" y="379.9" font-size="7.9" text-anchor="end" fill="#262626" stroke="#262626" stroke-width="0.05" textLength="15.59" lengthAdjust="spacingAndGlyphs">0.05</text>
<line x1="505" y1="341.6" x2="507.2" y2="341.6" stroke="#333" stroke-width="0.8"/>
<text x="503.2" y="344.6" font-size="7.9" text-anchor="end" fill="#262626" stroke="#262626" stroke-width="0.05" textLength="15.59" lengthAdjust="spacingAndGlyphs">0.10</text>
<line x1="505" y1="306.3" x2="507.2" y2="306.3" stroke="#333" stroke-width="0.8"/>
<text x="503.2" y="309.3" font-size="7.9" text-anchor="end" fill="#262626" stroke="#262626" stroke-width="0.05" textLength="15.59" lengthAdjust="spacingAndGlyphs">0.15</text>
<line x1="505" y1="271" x2="507.2" y2="271" stroke="#333" stroke-width="0.8"/>
<text x="503.2" y="274" font-size="7.9" text-anchor="end" fill="#262626" stroke="#262626" stroke-width="0.05" textLength="15.59" lengthAdjust="spacingAndGlyphs">0.20</text>
<line x1="508.2" y1="412.3" x2="508.2" y2="414.5" stroke="#333" stroke-width="0.8"/>
<text x="508.2" y="422.3" font-size="7.9" text-anchor="middle" fill="#262626" stroke="#262626" stroke-width="0.05" textLength="11.13" lengthAdjust="spacingAndGlyphs">0.0</text>
<line x1="539.25" y1="412.3" x2="539.25" y2="414.5" stroke="#333" stroke-width="0.8"/>
<text x="539.25" y="422.3" font-size="7.9" text-anchor="middle" fill="#262626" stroke="#262626" stroke-width="0.05" textLength="11.13" lengthAdjust="spacingAndGlyphs">0.1</text>
<line x1="570.3" y1="412.3" x2="570.3" y2="414.5" stroke="#333" stroke-width="0.8"/>
<text x="570.3" y="422.3" font-size="7.9" text-anchor="middle" fill="#262626" stroke="#262626" stroke-width="0.05" textLength="11.13" lengthAdjust="spacingAndGlyphs">0.2</text>
<line x1="601.35" y1="412.3" x2="601.35" y2="414.5" stroke="#333" stroke-width="0.8"/>
<text x="601.35" y="422.3" font-size="7.9" text-anchor="middle" fill="#262626" stroke="#262626" stroke-width="0.05" textLength="11.13" lengthAdjust="spacingAndGlyphs">0.3</text>
<line x1="632.4" y1="412.3" x2="632.4" y2="414.5" stroke="#333" stroke-width="0.8"/>
<text x="632.4" y="422.3" font-size="7.9" text-anchor="middle" fill="#262626" stroke="#262626" stroke-width="0.05" textLength="11.13" lengthAdjust="spacingAndGlyphs">0.4</text>
<line x1="663.45" y1="412.3" x2="663.45" y2="414.5" stroke="#333" stroke-width="0.8"/>
<text x="663.45" y="422.3" font-size="7.9" text-anchor="middle" fill="#262626" stroke="#262626" stroke-width="0.05" textLength="11.13" lengthAdjust="spacingAndGlyphs">0.5</text>
<text x="484.6" y="334.7" font-size="7.2" text-anchor="middle" fill="#262626" stroke="#262626" stroke-width="0.05" textLength="69.06" lengthAdjust="spacingAndGlyphs" transform="rotate(-90 484.6 334.7)">FT Amplitude [a.u.]</text>
<text x="578.85" y="430.9" font-size="7.6" font-style="italic" fill="#262626" stroke="#262626" stroke-width="0.05">λ</text>
<text x="583.55" y="432.2" font-size="5.4" font-style="italic" fill="#262626" stroke="#262626" stroke-width="0.05">z</text>
<text x="588.75" y="430.9" font-size="7.4" text-anchor="start" fill="#262626" stroke="#262626" stroke-width="0.05" textLength="18.9" lengthAdjust="spacingAndGlyphs">[mm]</text>
<rect x="154.4" y="260.5" width="50.1" height="29.3" rx="1.2" fill="#fff" fill-opacity="0.85" stroke="#dcdcdc" stroke-width="0.8"/>
<line x1="156.3" y1="265.7" x2="169.2" y2="265.7" stroke="#7f7fff" stroke-width="1.7"/>
<text x="173.5" y="268.2" font-size="6.3" fill="#303030" textLength="25.88" lengthAdjust="spacingAndGlyphs">FT t-XTG</text>
<line x1="156.3" y1="274.8" x2="169.2" y2="274.8" stroke="#ff8585" stroke-width="1.7"/>
<text x="173.5" y="277.3" font-size="6.3" fill="#303030" textLength="27.95" lengthAdjust="spacingAndGlyphs">FT d-XRD</text>
<line x1="156.3" y1="283.8" x2="169.2" y2="283.8" stroke="#808080" stroke-width="1.7"/>
<text x="173.5" y="286.3" font-size="6.3" fill="#303030" textLength="19.88" lengthAdjust="spacingAndGlyphs">FT sim</text>
<rect x="332.4" y="379.9" width="50.1" height="29.1" rx="1.2" fill="#fff" fill-opacity="0.85" stroke="#dcdcdc" stroke-width="0.8"/>
<line x1="334.5" y1="385.7" x2="347" y2="385.7" stroke="#7f7fff" stroke-width="1.7"/>
<text x="351.7" y="388.2" font-size="6.3" fill="#303030" textLength="25.88" lengthAdjust="spacingAndGlyphs">FT t-XTG</text>
<line x1="334.5" y1="394.4" x2="347" y2="394.4" stroke="#ff8585" stroke-width="1.7"/>
<text x="351.7" y="396.9" font-size="6.3" fill="#303030" textLength="27.95" lengthAdjust="spacingAndGlyphs">FT d-XRD</text>
<line x1="334.5" y1="403.4" x2="347" y2="403.4" stroke="#808080" stroke-width="1.7"/>
<text x="351.7" y="405.9" font-size="6.3" fill="#303030" textLength="19.88" lengthAdjust="spacingAndGlyphs">FT sim</text>
<rect x="625.4" y="260.8" width="50.5" height="28.5" rx="1.2" fill="#fff" fill-opacity="0.85" stroke="#dcdcdc" stroke-width="0.8"/>
<line x1="627.5" y1="265.4" x2="641" y2="265.4" stroke="#7f7fff" stroke-width="1.7"/>
<text x="645.1" y="267.9" font-size="6.3" fill="#303030" textLength="25.88" lengthAdjust="spacingAndGlyphs">FT t-XTG</text>
<line x1="627.5" y1="274.8" x2="641" y2="274.8" stroke="#ff8585" stroke-width="1.7"/>
<text x="645.1" y="277.3" font-size="6.3" fill="#303030" textLength="27.95" lengthAdjust="spacingAndGlyphs">FT d-XRD</text>
<line x1="627.5" y1="283.7" x2="641" y2="283.7" stroke="#808080" stroke-width="1.7"/>
<text x="645.1" y="286.2" font-size="6.3" fill="#303030" textLength="19.88" lengthAdjust="spacingAndGlyphs">FT sim</text>
</svg>
</body></html>
